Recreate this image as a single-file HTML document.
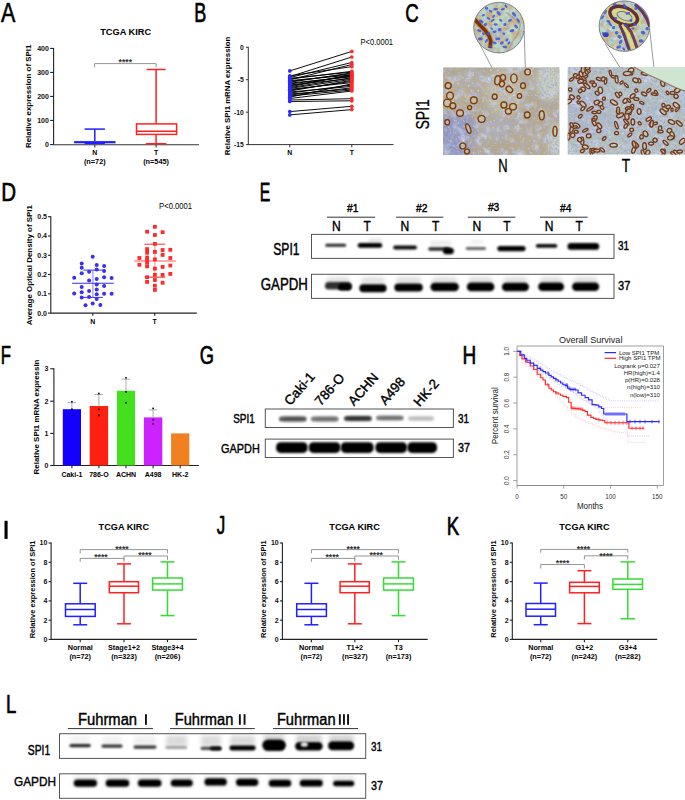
<!DOCTYPE html>
<html><head><meta charset="utf-8"><title>Figure</title>
<style>html,body{margin:0;padding:0;background:#fff;width:685px;height:800px;overflow:hidden}svg{display:block}</style>
</head><body>
<svg width="685" height="800" viewBox="0 0 685 800" font-family="Liberation Sans, sans-serif">
<defs><filter id="bl1" x="-20%" y="-150%" width="140%" height="400%"><feGaussianBlur stdDeviation="0.1"/></filter><filter id="bl2" x="-20%" y="-150%" width="140%" height="400%"><feGaussianBlur stdDeviation="0.2"/></filter><filter id="bl3" x="-20%" y="-150%" width="140%" height="400%"><feGaussianBlur stdDeviation="0.3"/></filter><filter id="bl4" x="-20%" y="-150%" width="140%" height="400%"><feGaussianBlur stdDeviation="0.4"/></filter><filter id="bl5" x="-20%" y="-150%" width="140%" height="400%"><feGaussianBlur stdDeviation="0.5"/></filter><filter id="bl6" x="-20%" y="-150%" width="140%" height="400%"><feGaussianBlur stdDeviation="0.6"/></filter><filter id="bl7" x="-20%" y="-150%" width="140%" height="400%"><feGaussianBlur stdDeviation="0.7"/></filter><filter id="bl8" x="-20%" y="-150%" width="140%" height="400%"><feGaussianBlur stdDeviation="0.8"/></filter><filter id="bl9" x="-20%" y="-150%" width="140%" height="400%"><feGaussianBlur stdDeviation="0.9"/></filter><filter id="bl10" x="-20%" y="-150%" width="140%" height="400%"><feGaussianBlur stdDeviation="1.0"/></filter><filter id="bl11" x="-20%" y="-150%" width="140%" height="400%"><feGaussianBlur stdDeviation="1.1"/></filter><filter id="bl12" x="-20%" y="-150%" width="140%" height="400%"><feGaussianBlur stdDeviation="1.2"/></filter><filter id="bl13" x="-20%" y="-150%" width="140%" height="400%"><feGaussianBlur stdDeviation="1.3"/></filter><filter id="bl14" x="-20%" y="-150%" width="140%" height="400%"><feGaussianBlur stdDeviation="1.4"/></filter><filter id="bl15" x="-20%" y="-150%" width="140%" height="400%"><feGaussianBlur stdDeviation="1.5"/></filter><filter id="bl16" x="-20%" y="-150%" width="140%" height="400%"><feGaussianBlur stdDeviation="1.6"/></filter><filter id="bl17" x="-20%" y="-150%" width="140%" height="400%"><feGaussianBlur stdDeviation="1.7"/></filter><filter id="bl18" x="-20%" y="-150%" width="140%" height="400%"><feGaussianBlur stdDeviation="1.8"/></filter><filter id="bl19" x="-20%" y="-150%" width="140%" height="400%"><feGaussianBlur stdDeviation="1.9"/></filter><filter id="bl20" x="-20%" y="-150%" width="140%" height="400%"><feGaussianBlur stdDeviation="2.0"/></filter><filter id="bl21" x="-20%" y="-150%" width="140%" height="400%"><feGaussianBlur stdDeviation="2.1"/></filter><filter id="bl22" x="-20%" y="-150%" width="140%" height="400%"><feGaussianBlur stdDeviation="2.2"/></filter><filter id="bl23" x="-20%" y="-150%" width="140%" height="400%"><feGaussianBlur stdDeviation="2.3"/></filter><filter id="bl24" x="-20%" y="-150%" width="140%" height="400%"><feGaussianBlur stdDeviation="2.4"/></filter><filter id="bl25" x="-20%" y="-150%" width="140%" height="400%"><feGaussianBlur stdDeviation="2.5"/></filter><filter id="bl26" x="-20%" y="-150%" width="140%" height="400%"><feGaussianBlur stdDeviation="2.6"/></filter><filter id="bl27" x="-20%" y="-150%" width="140%" height="400%"><feGaussianBlur stdDeviation="2.7"/></filter><filter id="bl28" x="-20%" y="-150%" width="140%" height="400%"><feGaussianBlur stdDeviation="2.8"/></filter><filter id="bl29" x="-20%" y="-150%" width="140%" height="400%"><feGaussianBlur stdDeviation="2.9"/></filter><filter id="bl30" x="-20%" y="-150%" width="140%" height="400%"><feGaussianBlur stdDeviation="3.0"/></filter></defs>
<rect width="685" height="800" fill="#fff"/>
<text font-size="1" transform="matrix(21.4925 0 0 26.8116 1.050 21.500)" fill="#000" stroke="#000" stroke-width="0.0248" stroke-linejoin="round">A</text>
<text font-size="1" transform="matrix(18.0451 0 0 26.8116 194.250 21.500)" fill="#000" stroke="#000" stroke-width="0.0268" stroke-linejoin="round">B</text>
<text font-size="1" transform="matrix(18.6111 0 0 26.4789 405.150 21.835)" fill="#000" stroke="#000" stroke-width="0.0266" stroke-linejoin="round">C</text>
<text font-size="1" transform="matrix(20.5556 0 0 26.3768 1.150 200.700)" fill="#000" stroke="#000" stroke-width="0.0256" stroke-linejoin="round">D</text>
<text font-size="1" transform="matrix(15.7895 0 0 26.3768 259.750 200.900)" fill="#000" stroke="#000" stroke-width="0.0285" stroke-linejoin="round">E</text>
<text font-size="1" transform="matrix(16.7213 0 0 25.9420 0.750 363.800)" fill="#000" stroke="#000" stroke-width="0.0281" stroke-linejoin="round">F</text>
<text font-size="1" transform="matrix(18.3333 0 0 26.0563 199.750 364.139)" fill="#000" stroke="#000" stroke-width="0.0270" stroke-linejoin="round">G</text>
<text font-size="1" transform="matrix(19.0278 0 0 26.0870 462.450 363.900)" fill="#000" stroke="#000" stroke-width="0.0266" stroke-linejoin="round">H</text>
<text font-size="1" transform="matrix(17.0000 0 0 26.0000 216.750 534.440)" fill="#000" stroke="#000" stroke-width="0.0279" stroke-linejoin="round">J</text>
<text font-size="1" transform="matrix(18.7970 0 0 26.3768 446.650 535.000)" fill="#000" stroke="#000" stroke-width="0.0266" stroke-linejoin="round">K</text>
<text font-size="1" transform="matrix(18.5586 0 0 26.3768 5.950 712.700)" fill="#000" stroke="#000" stroke-width="0.0267" stroke-linejoin="round">L</text>
<rect x="4.50" y="520.80" width="3.10" height="18.10" fill="#000"/>
<text font-size="1" transform="matrix(9.2391 0 0 9.5775 100.200 34.904)" font-weight="bold" fill="#000">TCGA KIRC</text>
<line x1="53.60" y1="47.90" x2="53.60" y2="145.10" stroke="#222" stroke-width="1.1"/>
<line x1="50.10" y1="48.40" x2="53.60" y2="48.40" stroke="#222" stroke-width="1.1"/>
<text x="48.90" y="50.85" font-size="7" text-anchor="end" font-weight="bold" fill="#111">400</text>
<line x1="50.10" y1="72.40" x2="53.60" y2="72.40" stroke="#222" stroke-width="1.1"/>
<text x="48.90" y="74.85" font-size="7" text-anchor="end" font-weight="bold" fill="#111">300</text>
<line x1="50.10" y1="96.40" x2="53.60" y2="96.40" stroke="#222" stroke-width="1.1"/>
<text x="48.90" y="98.85" font-size="7" text-anchor="end" font-weight="bold" fill="#111">200</text>
<line x1="50.10" y1="120.40" x2="53.60" y2="120.40" stroke="#222" stroke-width="1.1"/>
<text x="48.90" y="122.85" font-size="7" text-anchor="end" font-weight="bold" fill="#111">100</text>
<line x1="50.10" y1="144.60" x2="53.60" y2="144.60" stroke="#222" stroke-width="1.1"/>
<text x="48.90" y="147.05" font-size="7" text-anchor="end" font-weight="bold" fill="#111">0</text>
<text font-size="1" transform="matrix(0 -7.9250 6.4171 0 31.352 148.000)" font-weight="bold" fill="#000">Relative expression of SPI1</text>
<line x1="53.60" y1="144.80" x2="199.00" y2="144.80" stroke="#333" stroke-width="1.1"/>
<line x1="94.80" y1="144.80" x2="94.80" y2="147.60" stroke="#333" stroke-width="1.1"/>
<line x1="156.10" y1="144.80" x2="156.10" y2="147.60" stroke="#333" stroke-width="1.1"/>
<text x="94.80" y="154.60" font-size="6.9" text-anchor="middle" font-weight="bold">N</text>
<text x="94.80" y="163.60" font-size="6.9" text-anchor="middle" font-weight="bold" textLength="21.7" lengthAdjust="spacingAndGlyphs">(n=72)</text>
<text x="156.10" y="154.60" font-size="6.9" text-anchor="middle" font-weight="bold">T</text>
<text x="156.10" y="163.60" font-size="6.9" text-anchor="middle" font-weight="bold" textLength="25.8" lengthAdjust="spacingAndGlyphs">(n=545)</text>
<line x1="94.80" y1="129.10" x2="94.80" y2="141.00" stroke="#2020ff" stroke-width="1.5"/>
<line x1="84.60" y1="129.10" x2="104.90" y2="129.10" stroke="#2020ff" stroke-width="1.5"/>
<rect x="74.10" y="141.10" width="41.40" height="2.20" fill="#2020ff"/>
<line x1="84.60" y1="143.40" x2="104.90" y2="143.40" stroke="#2020ff" stroke-width="1.5"/>
<line x1="156.10" y1="69.50" x2="156.10" y2="123.90" stroke="#ff2020" stroke-width="1.5"/>
<line x1="156.10" y1="134.40" x2="156.10" y2="143.70" stroke="#ff2020" stroke-width="1.5"/>
<line x1="146.60" y1="69.50" x2="165.60" y2="69.50" stroke="#ff2020" stroke-width="1.5"/>
<line x1="145.85" y1="143.70" x2="166.35" y2="143.70" stroke="#ff2020" stroke-width="1.5"/>
<rect x="136.50" y="123.90" width="40.10" height="10.50" fill="none" stroke="#ff2020" stroke-width="1.5"/>
<line x1="136.50" y1="131.20" x2="176.60" y2="131.20" stroke="#ff2020" stroke-width="1.5"/>
<polyline points="94.60,67.40 94.60,63.60 156.10,63.60 156.10,67.40" stroke="#8a8a8a" stroke-width="0.9" fill="none"/>
<text x="125.30" y="65.30" font-size="9.2" text-anchor="middle" font-weight="bold" textLength="13.5" lengthAdjust="spacingAndGlyphs" fill="#333">****</text>
<line x1="248.30" y1="46.80" x2="248.30" y2="145.10" stroke="#333" stroke-width="1"/>
<line x1="245.90" y1="47.30" x2="248.30" y2="47.30" stroke="#333" stroke-width="1"/>
<text x="243.90" y="49.75" font-size="6.8" text-anchor="end" font-weight="bold" fill="#111">0</text>
<line x1="245.90" y1="79.70" x2="248.30" y2="79.70" stroke="#333" stroke-width="1"/>
<text x="243.90" y="82.15" font-size="6.8" text-anchor="end" font-weight="bold" fill="#111">-5</text>
<line x1="245.90" y1="112.20" x2="248.30" y2="112.20" stroke="#333" stroke-width="1"/>
<text x="243.90" y="114.65" font-size="6.8" text-anchor="end" font-weight="bold" fill="#111">-10</text>
<line x1="245.90" y1="144.60" x2="248.30" y2="144.60" stroke="#333" stroke-width="1"/>
<text x="243.90" y="147.05" font-size="6.8" text-anchor="end" font-weight="bold" fill="#111">-15</text>
<line x1="248.30" y1="144.60" x2="393.50" y2="144.60" stroke="#333" stroke-width="1"/>
<line x1="289.80" y1="144.60" x2="289.80" y2="147.30" stroke="#333" stroke-width="1"/>
<line x1="351.80" y1="144.60" x2="351.80" y2="147.30" stroke="#333" stroke-width="1"/>
<text x="289.80" y="155.20" font-size="6.8" text-anchor="middle" font-weight="bold">N</text>
<text x="351.80" y="155.20" font-size="6.8" text-anchor="middle" font-weight="bold">T</text>
<text font-size="1" transform="matrix(0 -7.8427 6.6310 0 229.907 155.200)" font-weight="bold" fill="#000">Relative SPI1 mRNA expression</text>
<text font-size="1" transform="matrix(7.5406 0 0 8.3099 360.600 45.117)" fill="#000">P&lt;0.0001</text>
<line x1="289.80" y1="70.90" x2="351.80" y2="51.40" stroke="#000" stroke-width="0.95"/>
<line x1="289.80" y1="75.80" x2="351.80" y2="66.60" stroke="#000" stroke-width="0.95"/>
<line x1="289.80" y1="76.60" x2="351.80" y2="57.00" stroke="#000" stroke-width="0.95"/>
<line x1="289.80" y1="77.50" x2="351.80" y2="62.50" stroke="#000" stroke-width="0.95"/>
<line x1="289.80" y1="78.30" x2="351.80" y2="72.10" stroke="#000" stroke-width="0.95"/>
<line x1="289.80" y1="79.00" x2="351.80" y2="71.30" stroke="#000" stroke-width="0.95"/>
<line x1="289.80" y1="79.80" x2="351.80" y2="64.50" stroke="#000" stroke-width="0.95"/>
<line x1="289.80" y1="80.60" x2="351.80" y2="75.00" stroke="#000" stroke-width="0.95"/>
<line x1="289.80" y1="81.40" x2="351.80" y2="73.70" stroke="#000" stroke-width="0.95"/>
<line x1="289.80" y1="82.20" x2="351.80" y2="72.90" stroke="#000" stroke-width="0.95"/>
<line x1="289.80" y1="83.10" x2="351.80" y2="76.90" stroke="#000" stroke-width="0.95"/>
<line x1="289.80" y1="84.00" x2="351.80" y2="76.10" stroke="#000" stroke-width="0.95"/>
<line x1="289.80" y1="85.00" x2="351.80" y2="78.50" stroke="#000" stroke-width="0.95"/>
<line x1="289.80" y1="85.90" x2="351.80" y2="75.30" stroke="#000" stroke-width="0.95"/>
<line x1="289.80" y1="86.80" x2="351.80" y2="74.50" stroke="#000" stroke-width="0.95"/>
<line x1="289.80" y1="87.60" x2="351.80" y2="77.70" stroke="#000" stroke-width="0.95"/>
<line x1="289.80" y1="88.40" x2="351.80" y2="79.30" stroke="#000" stroke-width="0.95"/>
<line x1="289.80" y1="89.30" x2="351.80" y2="82.60" stroke="#000" stroke-width="0.95"/>
<line x1="289.80" y1="90.20" x2="351.80" y2="81.40" stroke="#000" stroke-width="0.95"/>
<line x1="289.80" y1="91.00" x2="351.80" y2="80.30" stroke="#000" stroke-width="0.95"/>
<line x1="289.80" y1="92.00" x2="351.80" y2="86.40" stroke="#000" stroke-width="0.95"/>
<line x1="289.80" y1="93.00" x2="351.80" y2="85.00" stroke="#000" stroke-width="0.95"/>
<line x1="289.80" y1="94.00" x2="351.80" y2="89.00" stroke="#000" stroke-width="0.95"/>
<line x1="289.80" y1="95.00" x2="351.80" y2="87.80" stroke="#000" stroke-width="0.95"/>
<line x1="289.80" y1="96.00" x2="351.80" y2="90.00" stroke="#000" stroke-width="0.95"/>
<line x1="289.80" y1="97.20" x2="351.80" y2="83.80" stroke="#000" stroke-width="0.95"/>
<line x1="289.80" y1="98.50" x2="351.80" y2="91.00" stroke="#000" stroke-width="0.95"/>
<line x1="289.80" y1="100.00" x2="351.80" y2="98.70" stroke="#000" stroke-width="0.95"/>
<line x1="289.80" y1="101.50" x2="351.80" y2="100.80" stroke="#000" stroke-width="0.95"/>
<line x1="289.80" y1="111.60" x2="351.80" y2="106.30" stroke="#000" stroke-width="0.95"/>
<line x1="289.80" y1="114.90" x2="351.80" y2="109.60" stroke="#000" stroke-width="0.95"/>
<circle cx="289.8" cy="70.90" r="1.85" fill="#2a2aff"/>
<circle cx="351.8" cy="51.40" r="1.85" fill="#ff2a2a"/>
<circle cx="289.8" cy="75.80" r="1.85" fill="#2a2aff"/>
<circle cx="351.8" cy="66.60" r="1.85" fill="#ff2a2a"/>
<circle cx="289.8" cy="76.60" r="1.85" fill="#2a2aff"/>
<circle cx="351.8" cy="57.00" r="1.85" fill="#ff2a2a"/>
<circle cx="289.8" cy="77.50" r="1.85" fill="#2a2aff"/>
<circle cx="351.8" cy="62.50" r="1.85" fill="#ff2a2a"/>
<circle cx="289.8" cy="78.30" r="1.85" fill="#2a2aff"/>
<circle cx="351.8" cy="72.10" r="1.85" fill="#ff2a2a"/>
<circle cx="289.8" cy="79.00" r="1.85" fill="#2a2aff"/>
<circle cx="351.8" cy="71.30" r="1.85" fill="#ff2a2a"/>
<circle cx="289.8" cy="79.80" r="1.85" fill="#2a2aff"/>
<circle cx="351.8" cy="64.50" r="1.85" fill="#ff2a2a"/>
<circle cx="289.8" cy="80.60" r="1.85" fill="#2a2aff"/>
<circle cx="351.8" cy="75.00" r="1.85" fill="#ff2a2a"/>
<circle cx="289.8" cy="81.40" r="1.85" fill="#2a2aff"/>
<circle cx="351.8" cy="73.70" r="1.85" fill="#ff2a2a"/>
<circle cx="289.8" cy="82.20" r="1.85" fill="#2a2aff"/>
<circle cx="351.8" cy="72.90" r="1.85" fill="#ff2a2a"/>
<circle cx="289.8" cy="83.10" r="1.85" fill="#2a2aff"/>
<circle cx="351.8" cy="76.90" r="1.85" fill="#ff2a2a"/>
<circle cx="289.8" cy="84.00" r="1.85" fill="#2a2aff"/>
<circle cx="351.8" cy="76.10" r="1.85" fill="#ff2a2a"/>
<circle cx="289.8" cy="85.00" r="1.85" fill="#2a2aff"/>
<circle cx="351.8" cy="78.50" r="1.85" fill="#ff2a2a"/>
<circle cx="289.8" cy="85.90" r="1.85" fill="#2a2aff"/>
<circle cx="351.8" cy="75.30" r="1.85" fill="#ff2a2a"/>
<circle cx="289.8" cy="86.80" r="1.85" fill="#2a2aff"/>
<circle cx="351.8" cy="74.50" r="1.85" fill="#ff2a2a"/>
<circle cx="289.8" cy="87.60" r="1.85" fill="#2a2aff"/>
<circle cx="351.8" cy="77.70" r="1.85" fill="#ff2a2a"/>
<circle cx="289.8" cy="88.40" r="1.85" fill="#2a2aff"/>
<circle cx="351.8" cy="79.30" r="1.85" fill="#ff2a2a"/>
<circle cx="289.8" cy="89.30" r="1.85" fill="#2a2aff"/>
<circle cx="351.8" cy="82.60" r="1.85" fill="#ff2a2a"/>
<circle cx="289.8" cy="90.20" r="1.85" fill="#2a2aff"/>
<circle cx="351.8" cy="81.40" r="1.85" fill="#ff2a2a"/>
<circle cx="289.8" cy="91.00" r="1.85" fill="#2a2aff"/>
<circle cx="351.8" cy="80.30" r="1.85" fill="#ff2a2a"/>
<circle cx="289.8" cy="92.00" r="1.85" fill="#2a2aff"/>
<circle cx="351.8" cy="86.40" r="1.85" fill="#ff2a2a"/>
<circle cx="289.8" cy="93.00" r="1.85" fill="#2a2aff"/>
<circle cx="351.8" cy="85.00" r="1.85" fill="#ff2a2a"/>
<circle cx="289.8" cy="94.00" r="1.85" fill="#2a2aff"/>
<circle cx="351.8" cy="89.00" r="1.85" fill="#ff2a2a"/>
<circle cx="289.8" cy="95.00" r="1.85" fill="#2a2aff"/>
<circle cx="351.8" cy="87.80" r="1.85" fill="#ff2a2a"/>
<circle cx="289.8" cy="96.00" r="1.85" fill="#2a2aff"/>
<circle cx="351.8" cy="90.00" r="1.85" fill="#ff2a2a"/>
<circle cx="289.8" cy="97.20" r="1.85" fill="#2a2aff"/>
<circle cx="351.8" cy="83.80" r="1.85" fill="#ff2a2a"/>
<circle cx="289.8" cy="98.50" r="1.85" fill="#2a2aff"/>
<circle cx="351.8" cy="91.00" r="1.85" fill="#ff2a2a"/>
<circle cx="289.8" cy="100.00" r="1.85" fill="#2a2aff"/>
<circle cx="351.8" cy="98.70" r="1.85" fill="#ff2a2a"/>
<circle cx="289.8" cy="101.50" r="1.85" fill="#2a2aff"/>
<circle cx="351.8" cy="100.80" r="1.85" fill="#ff2a2a"/>
<circle cx="289.8" cy="111.60" r="1.85" fill="#2a2aff"/>
<circle cx="351.8" cy="106.30" r="1.85" fill="#ff2a2a"/>
<circle cx="289.8" cy="114.90" r="1.85" fill="#2a2aff"/>
<circle cx="351.8" cy="109.60" r="1.85" fill="#ff2a2a"/>
<text font-size="1" transform="matrix(0 -14.0323 19.2254 0 429.483 129.575)" fill="#000" stroke="#000" stroke-width="0.0150" stroke-linejoin="round">SPI1</text>
<text font-size="1" transform="matrix(12.9861 0 0 17.7536 498.225 171.775)" fill="#000" stroke="#000" stroke-width="0.0163" stroke-linejoin="round">N</text>
<text font-size="1" transform="matrix(13.8525 0 0 17.8986 621.825 171.875)" fill="#000" stroke="#000" stroke-width="0.0157" stroke-linejoin="round">T</text>
<rect x="443.10" y="67.50" width="116.20" height="87.50" fill="#b3a888"/>
<clipPath id="clip1"><rect x="443.1" y="67.5" width="116.2" height="87.5"/></clipPath>
<g clip-path="url(#clip1)">
<g filter="url(#bl30)">
<ellipse cx="455" cy="135" rx="22" ry="26" fill="#8c94c4" opacity="0.9"/>
<ellipse cx="495" cy="128" rx="16" ry="10" fill="#aeb2c2" opacity="0.6"/>
<ellipse cx="550" cy="82" rx="14" ry="18" fill="#c6d2c0" opacity="0.9"/>
<ellipse cx="556" cy="140" rx="8" ry="18" fill="#c4d4c8" opacity="0.9"/>
<ellipse cx="505" cy="92" rx="20" ry="24" fill="#c8c6a8" opacity="0.7"/>
<ellipse cx="470" cy="80" rx="14" ry="10" fill="#b6b0a8" opacity="0.6"/>
<ellipse cx="530" cy="140" rx="18" ry="12" fill="#bcae8c" opacity="0.6"/>
<ellipse cx="480" cy="142" rx="14" ry="10" fill="#b8aa8a" opacity="0.6"/>
<ellipse cx="520" cy="122" rx="12" ry="10" fill="#b4ac9c" opacity="0.5"/>
<ellipse cx="456" cy="100" rx="14" ry="18" fill="#c0b08c" opacity="0.6"/>
</g>
<filter id="nz1_0" x="0" y="0" width="100%" height="100%" filterUnits="userSpaceOnUse"><feTurbulence type="fractalNoise" baseFrequency="0.12" numOctaves="2" seed="21"/><feColorMatrix type="matrix" values="0 0 0 0 0.596 0 0 0 0 0.643 0 0 0 0 0.784 3.0 0 0 0 -1.5"/></filter>
<rect x="443.1" y="67.5" width="116.2" height="87.5" fill="#000" filter="url(#nz1_0)"/>
<filter id="nz1_1" x="0" y="0" width="100%" height="100%" filterUnits="userSpaceOnUse"><feTurbulence type="fractalNoise" baseFrequency="0.45" numOctaves="2" seed="3"/><feColorMatrix type="matrix" values="0 0 0 0 0.353 0 0 0 0 0.416 0 0 0 0 0.816 3.4 0 0 0 -1.62"/></filter>
<rect x="443.1" y="67.5" width="116.2" height="87.5" fill="#000" filter="url(#nz1_1)"/>
<filter id="nz1_2" x="0" y="0" width="100%" height="100%" filterUnits="userSpaceOnUse"><feTurbulence type="fractalNoise" baseFrequency="0.42" numOctaves="2" seed="7"/><feColorMatrix type="matrix" values="0 0 0 0 0.604 0 0 0 0 0.416 0 0 0 0 0.188 2.6 0 0 0 -1.45"/></filter>
<rect x="443.1" y="67.5" width="116.2" height="87.5" fill="#000" filter="url(#nz1_2)"/>
<filter id="nz1_3" x="0" y="0" width="100%" height="100%" filterUnits="userSpaceOnUse"><feTurbulence type="fractalNoise" baseFrequency="0.4" numOctaves="2" seed="11"/><feColorMatrix type="matrix" values="0 0 0 0 0.878 0 0 0 0 0.863 0 0 0 0 0.769 2.0 0 0 0 -1.25"/></filter>
<rect x="443.1" y="67.5" width="116.2" height="87.5" fill="#000" filter="url(#nz1_3)"/>
<ellipse cx="497.5" cy="80.2" rx="2.7" ry="4.6" transform="rotate(10 497.5 80.2)" fill="#c8c6aa" stroke="#b07838" stroke-width="1.5" opacity="0.7"/>
<ellipse cx="497.5" cy="80.2" rx="2.7" ry="4.6" transform="rotate(10 497.5 80.2)" fill="none" stroke="#7a3a12" stroke-width="1.2"/>
<ellipse cx="503.0" cy="77.5" rx="2.6" ry="3.0" transform="rotate(0 503.0 77.5)" fill="#c8c6aa" stroke="#b07838" stroke-width="1.5" opacity="0.7"/>
<ellipse cx="503.0" cy="77.5" rx="2.6" ry="3.0" transform="rotate(0 503.0 77.5)" fill="none" stroke="#7a3a12" stroke-width="1.2"/>
<ellipse cx="502.0" cy="84.0" rx="2.4" ry="2.8" transform="rotate(30 502.0 84.0)" fill="#c8c6aa" stroke="#b07838" stroke-width="1.5" opacity="0.7"/>
<ellipse cx="502.0" cy="84.0" rx="2.4" ry="2.8" transform="rotate(30 502.0 84.0)" fill="none" stroke="#7a3a12" stroke-width="1.2"/>
<ellipse cx="513.9" cy="78.4" rx="3.2" ry="4.4" transform="rotate(0 513.9 78.4)" fill="#c8c6aa" stroke="#b07838" stroke-width="1.5" opacity="0.7"/>
<ellipse cx="513.9" cy="78.4" rx="3.2" ry="4.4" transform="rotate(0 513.9 78.4)" fill="none" stroke="#7a3a12" stroke-width="1.2"/>
<ellipse cx="509.3" cy="89.4" rx="3.6" ry="2.6" transform="rotate(40 509.3 89.4)" fill="#c8c6aa" stroke="#b07838" stroke-width="1.5" opacity="0.7"/>
<ellipse cx="509.3" cy="89.4" rx="3.6" ry="2.6" transform="rotate(40 509.3 89.4)" fill="none" stroke="#7a3a12" stroke-width="1.2"/>
<ellipse cx="494.7" cy="96.7" rx="2.4" ry="2.6" transform="rotate(0 494.7 96.7)" fill="#c8c6aa" stroke="#b07838" stroke-width="1.5" opacity="0.7"/>
<ellipse cx="494.7" cy="96.7" rx="2.4" ry="2.6" transform="rotate(0 494.7 96.7)" fill="none" stroke="#7a3a12" stroke-width="1.2"/>
<ellipse cx="523.0" cy="85.7" rx="2.4" ry="2.8" transform="rotate(0 523.0 85.7)" fill="#c8c6aa" stroke="#b07838" stroke-width="1.5" opacity="0.7"/>
<ellipse cx="523.0" cy="85.7" rx="2.4" ry="2.8" transform="rotate(0 523.0 85.7)" fill="none" stroke="#7a3a12" stroke-width="1.2"/>
<ellipse cx="503.9" cy="104.9" rx="3.0" ry="3.0" transform="rotate(0 503.9 104.9)" fill="#c8c6aa" stroke="#b07838" stroke-width="1.5" opacity="0.7"/>
<ellipse cx="503.9" cy="104.9" rx="3.0" ry="3.0" transform="rotate(0 503.9 104.9)" fill="none" stroke="#7a3a12" stroke-width="1.2"/>
<ellipse cx="513.0" cy="106.7" rx="3.4" ry="3.2" transform="rotate(0 513.0 106.7)" fill="#c8c6aa" stroke="#b07838" stroke-width="1.5" opacity="0.7"/>
<ellipse cx="513.0" cy="106.7" rx="3.4" ry="3.2" transform="rotate(0 513.0 106.7)" fill="none" stroke="#7a3a12" stroke-width="1.2"/>
<ellipse cx="508.4" cy="111.3" rx="3.0" ry="2.8" transform="rotate(0 508.4 111.3)" fill="#c8c6aa" stroke="#b07838" stroke-width="1.5" opacity="0.7"/>
<ellipse cx="508.4" cy="111.3" rx="3.0" ry="2.8" transform="rotate(0 508.4 111.3)" fill="none" stroke="#7a3a12" stroke-width="1.2"/>
<ellipse cx="527.2" cy="114.9" rx="2.8" ry="3.0" transform="rotate(0 527.2 114.9)" fill="#c8c6aa" stroke="#b07838" stroke-width="1.5" opacity="0.7"/>
<ellipse cx="527.2" cy="114.9" rx="2.8" ry="3.0" transform="rotate(0 527.2 114.9)" fill="none" stroke="#7a3a12" stroke-width="1.2"/>
<ellipse cx="541.8" cy="115.3" rx="2.5" ry="4.5" transform="rotate(0 541.8 115.3)" fill="#c8c6aa" stroke="#b07838" stroke-width="1.5" opacity="0.7"/>
<ellipse cx="541.8" cy="115.3" rx="2.5" ry="4.5" transform="rotate(0 541.8 115.3)" fill="none" stroke="#7a3a12" stroke-width="1.2"/>
<ellipse cx="473.8" cy="100.3" rx="3.4" ry="3.4" transform="rotate(0 473.8 100.3)" fill="#c8c6aa" stroke="#b07838" stroke-width="1.5" opacity="0.7"/>
<ellipse cx="473.8" cy="100.3" rx="3.4" ry="3.4" transform="rotate(0 473.8 100.3)" fill="none" stroke="#7a3a12" stroke-width="1.2"/>
<ellipse cx="469.6" cy="107.6" rx="2.0" ry="2.0" transform="rotate(0 469.6 107.6)" fill="#c8c6aa" stroke="#b07838" stroke-width="1.5" opacity="0.7"/>
<ellipse cx="469.6" cy="107.6" rx="2.0" ry="2.0" transform="rotate(0 469.6 107.6)" fill="none" stroke="#7a3a12" stroke-width="1.2"/>
<ellipse cx="481.6" cy="118.9" rx="3.5" ry="3.4" transform="rotate(0 481.6 118.9)" fill="#c8c6aa" stroke="#b07838" stroke-width="1.5" opacity="0.7"/>
<ellipse cx="481.6" cy="118.9" rx="3.5" ry="3.4" transform="rotate(0 481.6 118.9)" fill="none" stroke="#7a3a12" stroke-width="1.2"/>
<ellipse cx="450.0" cy="95.8" rx="3.4" ry="3.6" transform="rotate(0 450.0 95.8)" fill="#c8c6aa" stroke="#b07838" stroke-width="1.5" opacity="0.7"/>
<ellipse cx="450.0" cy="95.8" rx="3.4" ry="3.6" transform="rotate(0 450.0 95.8)" fill="none" stroke="#7a3a12" stroke-width="1.2"/>
<ellipse cx="447.3" cy="103.0" rx="3.8" ry="3.8" transform="rotate(0 447.3 103.0)" fill="#c8c6aa" stroke="#b07838" stroke-width="1.5" opacity="0.7"/>
<ellipse cx="447.3" cy="103.0" rx="3.8" ry="3.8" transform="rotate(0 447.3 103.0)" fill="none" stroke="#7a3a12" stroke-width="1.2"/>
<ellipse cx="452.8" cy="105.8" rx="3.0" ry="3.0" transform="rotate(0 452.8 105.8)" fill="#c8c6aa" stroke="#b07838" stroke-width="1.5" opacity="0.7"/>
<ellipse cx="452.8" cy="105.8" rx="3.0" ry="3.0" transform="rotate(0 452.8 105.8)" fill="none" stroke="#7a3a12" stroke-width="1.2"/>
<ellipse cx="460.0" cy="113.1" rx="3.5" ry="3.3" transform="rotate(0 460.0 113.1)" fill="#c8c6aa" stroke="#b07838" stroke-width="1.5" opacity="0.7"/>
<ellipse cx="460.0" cy="113.1" rx="3.5" ry="3.3" transform="rotate(0 460.0 113.1)" fill="none" stroke="#7a3a12" stroke-width="1.2"/>
<ellipse cx="448.2" cy="85.7" rx="3.0" ry="3.0" transform="rotate(0 448.2 85.7)" fill="#c8c6aa" stroke="#b07838" stroke-width="1.5" opacity="0.7"/>
<ellipse cx="448.2" cy="85.7" rx="3.0" ry="3.0" transform="rotate(0 448.2 85.7)" fill="none" stroke="#7a3a12" stroke-width="1.2"/>
<ellipse cx="447.3" cy="122.2" rx="2.4" ry="2.6" transform="rotate(0 447.3 122.2)" fill="#c8c6aa" stroke="#b07838" stroke-width="1.5" opacity="0.7"/>
<ellipse cx="447.3" cy="122.2" rx="2.4" ry="2.6" transform="rotate(0 447.3 122.2)" fill="none" stroke="#7a3a12" stroke-width="1.2"/>
<ellipse cx="468.3" cy="128.6" rx="2.0" ry="5.0" transform="rotate(-20 468.3 128.6)" fill="#c8c6aa" stroke="#b07838" stroke-width="1.5" opacity="0.7"/>
<ellipse cx="468.3" cy="128.6" rx="2.0" ry="5.0" transform="rotate(-20 468.3 128.6)" fill="none" stroke="#7a3a12" stroke-width="1.2"/>
<ellipse cx="462.8" cy="146.0" rx="3.0" ry="3.0" transform="rotate(0 462.8 146.0)" fill="#c8c6aa" stroke="#b07838" stroke-width="1.5" opacity="0.7"/>
<ellipse cx="462.8" cy="146.0" rx="3.0" ry="3.0" transform="rotate(0 462.8 146.0)" fill="none" stroke="#7a3a12" stroke-width="1.2"/>
<ellipse cx="467.0" cy="151.4" rx="2.5" ry="2.4" transform="rotate(0 467.0 151.4)" fill="#c8c6aa" stroke="#b07838" stroke-width="1.5" opacity="0.7"/>
<ellipse cx="467.0" cy="151.4" rx="2.5" ry="2.4" transform="rotate(0 467.0 151.4)" fill="none" stroke="#7a3a12" stroke-width="1.2"/>
<ellipse cx="527.6" cy="72.0" rx="2.8" ry="3.0" transform="rotate(0 527.6 72.0)" fill="#c8c6aa" stroke="#b07838" stroke-width="1.5" opacity="0.7"/>
<ellipse cx="527.6" cy="72.0" rx="2.8" ry="3.0" transform="rotate(0 527.6 72.0)" fill="none" stroke="#7a3a12" stroke-width="1.2"/>
<ellipse cx="555.0" cy="131.3" rx="2.0" ry="5.0" transform="rotate(0 555.0 131.3)" fill="#c8c6aa" stroke="#b07838" stroke-width="1.5" opacity="0.7"/>
<ellipse cx="555.0" cy="131.3" rx="2.0" ry="5.0" transform="rotate(0 555.0 131.3)" fill="none" stroke="#7a3a12" stroke-width="1.2"/>
<ellipse cx="519.5" cy="96.0" rx="2.2" ry="2.4" transform="rotate(0 519.5 96.0)" fill="#c8c6aa" stroke="#b07838" stroke-width="1.5" opacity="0.7"/>
<ellipse cx="519.5" cy="96.0" rx="2.2" ry="2.4" transform="rotate(0 519.5 96.0)" fill="none" stroke="#7a3a12" stroke-width="1.2"/>
</g>
<rect x="567.80" y="67.00" width="117.20" height="87.40" fill="#b2c4bc"/>
<clipPath id="clip2"><rect x="567.8" y="67.0" width="117.2" height="87.4"/></clipPath>
<g clip-path="url(#clip2)">
<g filter="url(#bl30)">
<ellipse cx="590" cy="110" rx="25" ry="30" fill="#a8b6c8" opacity="0.5"/>
<ellipse cx="640" cy="120" rx="25" ry="25" fill="#acbcc4" opacity="0.45"/>
<ellipse cx="600" cy="145" rx="20" ry="10" fill="#b8c8b8" opacity="0.6"/>
<ellipse cx="575" cy="80" rx="12" ry="12" fill="#b8c8bc" opacity="0.6"/>
<ellipse cx="620" cy="100" rx="15" ry="15" fill="#bcccc0" opacity="0.5"/>
</g>
<filter id="nz2_0" x="0" y="0" width="100%" height="100%" filterUnits="userSpaceOnUse"><feTurbulence type="fractalNoise" baseFrequency="0.12" numOctaves="2" seed="23"/><feColorMatrix type="matrix" values="0 0 0 0 0.596 0 0 0 0 0.659 0 0 0 0 0.816 3.0 0 0 0 -1.5"/></filter>
<rect x="567.8" y="67.0" width="117.2" height="87.4" fill="#000" filter="url(#nz2_0)"/>
<filter id="nz2_1" x="0" y="0" width="100%" height="100%" filterUnits="userSpaceOnUse"><feTurbulence type="fractalNoise" baseFrequency="0.45" numOctaves="2" seed="5"/><feColorMatrix type="matrix" values="0 0 0 0 0.353 0 0 0 0 0.416 0 0 0 0 0.816 3.4 0 0 0 -1.58"/></filter>
<rect x="567.8" y="67.0" width="117.2" height="87.4" fill="#000" filter="url(#nz2_1)"/>
<filter id="nz2_2" x="0" y="0" width="100%" height="100%" filterUnits="userSpaceOnUse"><feTurbulence type="fractalNoise" baseFrequency="0.42" numOctaves="2" seed="9"/><feColorMatrix type="matrix" values="0 0 0 0 0.541 0 0 0 0 0.314 0 0 0 0 0.251 2.4 0 0 0 -1.35"/></filter>
<rect x="567.8" y="67.0" width="117.2" height="87.4" fill="#000" filter="url(#nz2_2)"/>
<filter id="nz2_3" x="0" y="0" width="100%" height="100%" filterUnits="userSpaceOnUse"><feTurbulence type="fractalNoise" baseFrequency="0.4" numOctaves="2" seed="13"/><feColorMatrix type="matrix" values="0 0 0 0 0.847 0 0 0 0 0.894 0 0 0 0 0.816 2.0 0 0 0 -1.25"/></filter>
<rect x="567.8" y="67.0" width="117.2" height="87.4" fill="#000" filter="url(#nz2_3)"/>
<ellipse cx="605.6" cy="81.0" rx="3.2" ry="1.2" transform="rotate(96 605.6 81.0)" fill="#c0d2c0" stroke="#b89a60" stroke-width="1.5" opacity="0.7"/>
<ellipse cx="605.6" cy="81.0" rx="3.2" ry="1.2" transform="rotate(96 605.6 81.0)" fill="none" stroke="#6e3422" stroke-width="1.2"/>
<ellipse cx="610.4" cy="73.0" rx="2.8" ry="1.1" transform="rotate(78 610.4 73.0)" fill="#c0d2c0" stroke="#b89a60" stroke-width="1.5" opacity="0.7"/>
<ellipse cx="610.4" cy="73.0" rx="2.8" ry="1.1" transform="rotate(78 610.4 73.0)" fill="none" stroke="#6e3422" stroke-width="1.2"/>
<ellipse cx="576.1" cy="75.8" rx="2.6" ry="2.0" transform="rotate(22 576.1 75.8)" fill="#c0d2c0" stroke="#b89a60" stroke-width="1.5" opacity="0.7"/>
<ellipse cx="576.1" cy="75.8" rx="2.6" ry="2.0" transform="rotate(22 576.1 75.8)" fill="none" stroke="#6e3422" stroke-width="1.2"/>
<ellipse cx="593.9" cy="122.0" rx="3.9" ry="1.7" transform="rotate(71 593.9 122.0)" fill="#c0d2c0" stroke="#b89a60" stroke-width="1.5" opacity="0.7"/>
<ellipse cx="593.9" cy="122.0" rx="3.9" ry="1.7" transform="rotate(71 593.9 122.0)" fill="none" stroke="#6e3422" stroke-width="1.2"/>
<ellipse cx="667.6" cy="92.9" rx="1.9" ry="1.2" transform="rotate(56 667.6 92.9)" fill="#c0d2c0" stroke="#b89a60" stroke-width="1.5" opacity="0.7"/>
<ellipse cx="667.6" cy="92.9" rx="1.9" ry="1.2" transform="rotate(56 667.6 92.9)" fill="none" stroke="#6e3422" stroke-width="1.2"/>
<ellipse cx="662.7" cy="83.5" rx="3.0" ry="1.8" transform="rotate(67 662.7 83.5)" fill="#c0d2c0" stroke="#b89a60" stroke-width="1.5" opacity="0.7"/>
<ellipse cx="662.7" cy="83.5" rx="3.0" ry="1.8" transform="rotate(67 662.7 83.5)" fill="none" stroke="#6e3422" stroke-width="1.2"/>
<ellipse cx="631.5" cy="73.4" rx="1.7" ry="1.3" transform="rotate(122 631.5 73.4)" fill="#c0d2c0" stroke="#b89a60" stroke-width="1.5" opacity="0.7"/>
<ellipse cx="631.5" cy="73.4" rx="1.7" ry="1.3" transform="rotate(122 631.5 73.4)" fill="none" stroke="#6e3422" stroke-width="1.2"/>
<ellipse cx="617.6" cy="95.0" rx="3.0" ry="1.6" transform="rotate(54 617.6 95.0)" fill="#c0d2c0" stroke="#b89a60" stroke-width="1.5" opacity="0.7"/>
<ellipse cx="617.6" cy="95.0" rx="3.0" ry="1.6" transform="rotate(54 617.6 95.0)" fill="none" stroke="#6e3422" stroke-width="1.2"/>
<ellipse cx="660.1" cy="128.1" rx="2.2" ry="1.7" transform="rotate(95 660.1 128.1)" fill="#c0d2c0" stroke="#b89a60" stroke-width="1.5" opacity="0.7"/>
<ellipse cx="660.1" cy="128.1" rx="2.2" ry="1.7" transform="rotate(95 660.1 128.1)" fill="none" stroke="#6e3422" stroke-width="1.2"/>
<ellipse cx="669.5" cy="130.7" rx="2.3" ry="2.2" transform="rotate(21 669.5 130.7)" fill="#c0d2c0" stroke="#b89a60" stroke-width="1.5" opacity="0.7"/>
<ellipse cx="669.5" cy="130.7" rx="2.3" ry="2.2" transform="rotate(21 669.5 130.7)" fill="none" stroke="#6e3422" stroke-width="1.2"/>
<ellipse cx="616.5" cy="133.1" rx="2.0" ry="1.6" transform="rotate(7 616.5 133.1)" fill="#c0d2c0" stroke="#b89a60" stroke-width="1.5" opacity="0.7"/>
<ellipse cx="616.5" cy="133.1" rx="2.0" ry="1.6" transform="rotate(7 616.5 133.1)" fill="none" stroke="#6e3422" stroke-width="1.2"/>
<ellipse cx="645.5" cy="133.8" rx="3.0" ry="2.1" transform="rotate(56 645.5 133.8)" fill="#c0d2c0" stroke="#b89a60" stroke-width="1.5" opacity="0.7"/>
<ellipse cx="645.5" cy="133.8" rx="3.0" ry="2.1" transform="rotate(56 645.5 133.8)" fill="none" stroke="#6e3422" stroke-width="1.2"/>
<ellipse cx="648.7" cy="119.1" rx="3.0" ry="1.6" transform="rotate(151 648.7 119.1)" fill="#c0d2c0" stroke="#b89a60" stroke-width="1.5" opacity="0.7"/>
<ellipse cx="648.7" cy="119.1" rx="3.0" ry="1.6" transform="rotate(151 648.7 119.1)" fill="none" stroke="#6e3422" stroke-width="1.2"/>
<ellipse cx="677.6" cy="108.8" rx="3.2" ry="1.2" transform="rotate(126 677.6 108.8)" fill="#c0d2c0" stroke="#b89a60" stroke-width="1.5" opacity="0.7"/>
<ellipse cx="677.6" cy="108.8" rx="3.2" ry="1.2" transform="rotate(126 677.6 108.8)" fill="none" stroke="#6e3422" stroke-width="1.2"/>
<ellipse cx="643.1" cy="153.4" rx="3.6" ry="1.4" transform="rotate(69 643.1 153.4)" fill="#c0d2c0" stroke="#b89a60" stroke-width="1.5" opacity="0.7"/>
<ellipse cx="643.1" cy="153.4" rx="3.6" ry="1.4" transform="rotate(69 643.1 153.4)" fill="none" stroke="#6e3422" stroke-width="1.2"/>
<ellipse cx="621.6" cy="82.5" rx="1.9" ry="1.2" transform="rotate(138 621.6 82.5)" fill="#c0d2c0" stroke="#b89a60" stroke-width="1.5" opacity="0.7"/>
<ellipse cx="621.6" cy="82.5" rx="1.9" ry="1.2" transform="rotate(138 621.6 82.5)" fill="none" stroke="#6e3422" stroke-width="1.2"/>
<ellipse cx="583.0" cy="89.3" rx="2.5" ry="2.1" transform="rotate(15 583.0 89.3)" fill="#c0d2c0" stroke="#b89a60" stroke-width="1.5" opacity="0.7"/>
<ellipse cx="583.0" cy="89.3" rx="2.5" ry="2.1" transform="rotate(15 583.0 89.3)" fill="none" stroke="#6e3422" stroke-width="1.2"/>
<ellipse cx="620.1" cy="115.3" rx="3.7" ry="2.0" transform="rotate(156 620.1 115.3)" fill="#c0d2c0" stroke="#b89a60" stroke-width="1.5" opacity="0.7"/>
<ellipse cx="620.1" cy="115.3" rx="3.7" ry="2.0" transform="rotate(156 620.1 115.3)" fill="none" stroke="#6e3422" stroke-width="1.2"/>
<ellipse cx="600.3" cy="103.7" rx="2.5" ry="2.1" transform="rotate(172 600.3 103.7)" fill="#c0d2c0" stroke="#b89a60" stroke-width="1.5" opacity="0.7"/>
<ellipse cx="600.3" cy="103.7" rx="2.5" ry="2.1" transform="rotate(172 600.3 103.7)" fill="none" stroke="#6e3422" stroke-width="1.2"/>
<ellipse cx="585.5" cy="83.2" rx="2.2" ry="1.4" transform="rotate(87 585.5 83.2)" fill="#c0d2c0" stroke="#b89a60" stroke-width="1.5" opacity="0.7"/>
<ellipse cx="585.5" cy="83.2" rx="2.2" ry="1.4" transform="rotate(87 585.5 83.2)" fill="none" stroke="#6e3422" stroke-width="1.2"/>
<ellipse cx="636.3" cy="90.6" rx="1.6" ry="1.6" transform="rotate(66 636.3 90.6)" fill="#c0d2c0" stroke="#b89a60" stroke-width="1.5" opacity="0.7"/>
<ellipse cx="636.3" cy="90.6" rx="1.6" ry="1.6" transform="rotate(66 636.3 90.6)" fill="none" stroke="#6e3422" stroke-width="1.2"/>
<ellipse cx="633.7" cy="150.0" rx="3.3" ry="1.7" transform="rotate(111 633.7 150.0)" fill="#c0d2c0" stroke="#b89a60" stroke-width="1.5" opacity="0.7"/>
<ellipse cx="633.7" cy="150.0" rx="3.3" ry="1.7" transform="rotate(111 633.7 150.0)" fill="none" stroke="#6e3422" stroke-width="1.2"/>
<ellipse cx="672.3" cy="135.1" rx="3.7" ry="2.0" transform="rotate(71 672.3 135.1)" fill="#c0d2c0" stroke="#b89a60" stroke-width="1.5" opacity="0.7"/>
<ellipse cx="672.3" cy="135.1" rx="3.7" ry="2.0" transform="rotate(71 672.3 135.1)" fill="none" stroke="#6e3422" stroke-width="1.2"/>
<ellipse cx="614.3" cy="76.9" rx="3.1" ry="1.2" transform="rotate(12 614.3 76.9)" fill="#c0d2c0" stroke="#b89a60" stroke-width="1.5" opacity="0.7"/>
<ellipse cx="614.3" cy="76.9" rx="3.1" ry="1.2" transform="rotate(12 614.3 76.9)" fill="none" stroke="#6e3422" stroke-width="1.2"/>
<ellipse cx="592.2" cy="82.0" rx="2.4" ry="1.2" transform="rotate(0 592.2 82.0)" fill="#c0d2c0" stroke="#b89a60" stroke-width="1.5" opacity="0.7"/>
<ellipse cx="592.2" cy="82.0" rx="2.4" ry="1.2" transform="rotate(0 592.2 82.0)" fill="none" stroke="#6e3422" stroke-width="1.2"/>
<ellipse cx="585.5" cy="76.7" rx="2.5" ry="1.1" transform="rotate(157 585.5 76.7)" fill="#c0d2c0" stroke="#b89a60" stroke-width="1.5" opacity="0.7"/>
<ellipse cx="585.5" cy="76.7" rx="2.5" ry="1.1" transform="rotate(157 585.5 76.7)" fill="none" stroke="#6e3422" stroke-width="1.2"/>
<ellipse cx="639.2" cy="80.8" rx="2.2" ry="1.5" transform="rotate(66 639.2 80.8)" fill="#c0d2c0" stroke="#b89a60" stroke-width="1.5" opacity="0.7"/>
<ellipse cx="639.2" cy="80.8" rx="2.2" ry="1.5" transform="rotate(66 639.2 80.8)" fill="none" stroke="#6e3422" stroke-width="1.2"/>
<ellipse cx="582.2" cy="141.0" rx="4.0" ry="1.6" transform="rotate(87 582.2 141.0)" fill="#c0d2c0" stroke="#b89a60" stroke-width="1.5" opacity="0.7"/>
<ellipse cx="582.2" cy="141.0" rx="4.0" ry="1.6" transform="rotate(87 582.2 141.0)" fill="none" stroke="#6e3422" stroke-width="1.2"/>
<ellipse cx="578.0" cy="76.8" rx="2.4" ry="1.4" transform="rotate(149 578.0 76.8)" fill="#c0d2c0" stroke="#b89a60" stroke-width="1.5" opacity="0.7"/>
<ellipse cx="578.0" cy="76.8" rx="2.4" ry="1.4" transform="rotate(149 578.0 76.8)" fill="none" stroke="#6e3422" stroke-width="1.2"/>
<ellipse cx="586.7" cy="70.0" rx="3.9" ry="1.7" transform="rotate(26 586.7 70.0)" fill="#c0d2c0" stroke="#b89a60" stroke-width="1.5" opacity="0.7"/>
<ellipse cx="586.7" cy="70.0" rx="3.9" ry="1.7" transform="rotate(26 586.7 70.0)" fill="none" stroke="#6e3422" stroke-width="1.2"/>
<ellipse cx="631.0" cy="70.3" rx="2.9" ry="2.2" transform="rotate(155 631.0 70.3)" fill="#c0d2c0" stroke="#b89a60" stroke-width="1.5" opacity="0.7"/>
<ellipse cx="631.0" cy="70.3" rx="2.9" ry="2.2" transform="rotate(155 631.0 70.3)" fill="none" stroke="#6e3422" stroke-width="1.2"/>
<ellipse cx="648.8" cy="90.5" rx="2.5" ry="1.3" transform="rotate(139 648.8 90.5)" fill="#c0d2c0" stroke="#b89a60" stroke-width="1.5" opacity="0.7"/>
<ellipse cx="648.8" cy="90.5" rx="2.5" ry="1.3" transform="rotate(139 648.8 90.5)" fill="none" stroke="#6e3422" stroke-width="1.2"/>
<ellipse cx="629.8" cy="135.0" rx="2.4" ry="1.3" transform="rotate(146 629.8 135.0)" fill="#c0d2c0" stroke="#b89a60" stroke-width="1.5" opacity="0.7"/>
<ellipse cx="629.8" cy="135.0" rx="2.4" ry="1.3" transform="rotate(146 629.8 135.0)" fill="none" stroke="#6e3422" stroke-width="1.2"/>
<ellipse cx="682.3" cy="141.3" rx="3.5" ry="2.0" transform="rotate(133 682.3 141.3)" fill="#c0d2c0" stroke="#b89a60" stroke-width="1.5" opacity="0.7"/>
<ellipse cx="682.3" cy="141.3" rx="3.5" ry="2.0" transform="rotate(133 682.3 141.3)" fill="none" stroke="#6e3422" stroke-width="1.2"/>
<ellipse cx="594.3" cy="112.5" rx="2.5" ry="1.1" transform="rotate(5 594.3 112.5)" fill="#c0d2c0" stroke="#b89a60" stroke-width="1.5" opacity="0.7"/>
<ellipse cx="594.3" cy="112.5" rx="2.5" ry="1.1" transform="rotate(5 594.3 112.5)" fill="none" stroke="#6e3422" stroke-width="1.2"/>
<ellipse cx="600.4" cy="90.3" rx="3.3" ry="2.2" transform="rotate(81 600.4 90.3)" fill="#c0d2c0" stroke="#b89a60" stroke-width="1.5" opacity="0.7"/>
<ellipse cx="600.4" cy="90.3" rx="3.3" ry="2.2" transform="rotate(81 600.4 90.3)" fill="none" stroke="#6e3422" stroke-width="1.2"/>
<ellipse cx="676.7" cy="153.0" rx="3.9" ry="1.5" transform="rotate(40 676.7 153.0)" fill="#c0d2c0" stroke="#b89a60" stroke-width="1.5" opacity="0.7"/>
<ellipse cx="676.7" cy="153.0" rx="3.9" ry="1.5" transform="rotate(40 676.7 153.0)" fill="none" stroke="#6e3422" stroke-width="1.2"/>
<ellipse cx="594.3" cy="84.9" rx="2.1" ry="1.8" transform="rotate(162 594.3 84.9)" fill="#c0d2c0" stroke="#b89a60" stroke-width="1.5" opacity="0.7"/>
<ellipse cx="594.3" cy="84.9" rx="2.1" ry="1.8" transform="rotate(162 594.3 84.9)" fill="none" stroke="#6e3422" stroke-width="1.2"/>
<ellipse cx="665.5" cy="109.2" rx="3.2" ry="2.0" transform="rotate(15 665.5 109.2)" fill="#c0d2c0" stroke="#b89a60" stroke-width="1.5" opacity="0.7"/>
<ellipse cx="665.5" cy="109.2" rx="3.2" ry="2.0" transform="rotate(15 665.5 109.2)" fill="none" stroke="#6e3422" stroke-width="1.2"/>
<ellipse cx="644.6" cy="146.2" rx="3.5" ry="1.9" transform="rotate(86 644.6 146.2)" fill="#c0d2c0" stroke="#b89a60" stroke-width="1.5" opacity="0.7"/>
<ellipse cx="644.6" cy="146.2" rx="3.5" ry="1.9" transform="rotate(86 644.6 146.2)" fill="none" stroke="#6e3422" stroke-width="1.2"/>
<ellipse cx="588.7" cy="135.9" rx="2.4" ry="2.0" transform="rotate(175 588.7 135.9)" fill="#c0d2c0" stroke="#b89a60" stroke-width="1.5" opacity="0.7"/>
<ellipse cx="588.7" cy="135.9" rx="2.4" ry="2.0" transform="rotate(175 588.7 135.9)" fill="none" stroke="#6e3422" stroke-width="1.2"/>
<ellipse cx="613.9" cy="102.5" rx="3.9" ry="1.9" transform="rotate(31 613.9 102.5)" fill="#c0d2c0" stroke="#b89a60" stroke-width="1.5" opacity="0.7"/>
<ellipse cx="613.9" cy="102.5" rx="3.9" ry="1.9" transform="rotate(31 613.9 102.5)" fill="none" stroke="#6e3422" stroke-width="1.2"/>
<ellipse cx="582.7" cy="81.0" rx="3.8" ry="2.0" transform="rotate(26 582.7 81.0)" fill="#c0d2c0" stroke="#b89a60" stroke-width="1.5" opacity="0.7"/>
<ellipse cx="582.7" cy="81.0" rx="3.8" ry="2.0" transform="rotate(26 582.7 81.0)" fill="none" stroke="#6e3422" stroke-width="1.2"/>
<ellipse cx="663.9" cy="152.3" rx="3.2" ry="1.5" transform="rotate(99 663.9 152.3)" fill="#c0d2c0" stroke="#b89a60" stroke-width="1.5" opacity="0.7"/>
<ellipse cx="663.9" cy="152.3" rx="3.2" ry="1.5" transform="rotate(99 663.9 152.3)" fill="none" stroke="#6e3422" stroke-width="1.2"/>
<ellipse cx="583.2" cy="69.2" rx="3.9" ry="1.8" transform="rotate(95 583.2 69.2)" fill="#c0d2c0" stroke="#b89a60" stroke-width="1.5" opacity="0.7"/>
<ellipse cx="583.2" cy="69.2" rx="3.9" ry="1.8" transform="rotate(95 583.2 69.2)" fill="none" stroke="#6e3422" stroke-width="1.2"/>
<ellipse cx="676.3" cy="105.3" rx="3.7" ry="2.0" transform="rotate(38 676.3 105.3)" fill="#c0d2c0" stroke="#b89a60" stroke-width="1.5" opacity="0.7"/>
<ellipse cx="676.3" cy="105.3" rx="3.7" ry="2.0" transform="rotate(38 676.3 105.3)" fill="none" stroke="#6e3422" stroke-width="1.2"/>
<ellipse cx="597.2" cy="93.2" rx="2.2" ry="1.7" transform="rotate(47 597.2 93.2)" fill="#c0d2c0" stroke="#b89a60" stroke-width="1.5" opacity="0.7"/>
<ellipse cx="597.2" cy="93.2" rx="2.2" ry="1.7" transform="rotate(47 597.2 93.2)" fill="none" stroke="#6e3422" stroke-width="1.2"/>
<ellipse cx="616.6" cy="79.3" rx="3.8" ry="1.5" transform="rotate(82 616.6 79.3)" fill="#c0d2c0" stroke="#b89a60" stroke-width="1.5" opacity="0.7"/>
<ellipse cx="616.6" cy="79.3" rx="3.8" ry="1.5" transform="rotate(82 616.6 79.3)" fill="none" stroke="#6e3422" stroke-width="1.2"/>
<ellipse cx="635.7" cy="145.8" rx="2.6" ry="2.1" transform="rotate(90 635.7 145.8)" fill="#c0d2c0" stroke="#b89a60" stroke-width="1.5" opacity="0.7"/>
<ellipse cx="635.7" cy="145.8" rx="2.6" ry="2.1" transform="rotate(90 635.7 145.8)" fill="none" stroke="#6e3422" stroke-width="1.2"/>
<ellipse cx="629.7" cy="113.0" rx="1.6" ry="1.6" transform="rotate(33 629.7 113.0)" fill="#c0d2c0" stroke="#b89a60" stroke-width="1.5" opacity="0.7"/>
<ellipse cx="629.7" cy="113.0" rx="1.6" ry="1.6" transform="rotate(33 629.7 113.0)" fill="none" stroke="#6e3422" stroke-width="1.2"/>
<ellipse cx="568.5" cy="136.7" rx="2.0" ry="1.6" transform="rotate(131 568.5 136.7)" fill="#c0d2c0" stroke="#b89a60" stroke-width="1.5" opacity="0.7"/>
<ellipse cx="568.5" cy="136.7" rx="2.0" ry="1.6" transform="rotate(131 568.5 136.7)" fill="none" stroke="#6e3422" stroke-width="1.2"/>
<ellipse cx="632.6" cy="96.0" rx="2.8" ry="1.7" transform="rotate(141 632.6 96.0)" fill="#c0d2c0" stroke="#b89a60" stroke-width="1.5" opacity="0.7"/>
<ellipse cx="632.6" cy="96.0" rx="2.8" ry="1.7" transform="rotate(141 632.6 96.0)" fill="none" stroke="#6e3422" stroke-width="1.2"/>
<ellipse cx="580.3" cy="116.2" rx="2.2" ry="1.4" transform="rotate(139 580.3 116.2)" fill="#c0d2c0" stroke="#b89a60" stroke-width="1.5" opacity="0.7"/>
<ellipse cx="580.3" cy="116.2" rx="2.2" ry="1.4" transform="rotate(139 580.3 116.2)" fill="none" stroke="#6e3422" stroke-width="1.2"/>
<ellipse cx="626.9" cy="116.3" rx="3.4" ry="2.1" transform="rotate(80 626.9 116.3)" fill="#c0d2c0" stroke="#b89a60" stroke-width="1.5" opacity="0.7"/>
<ellipse cx="626.9" cy="116.3" rx="3.4" ry="2.1" transform="rotate(80 626.9 116.3)" fill="none" stroke="#6e3422" stroke-width="1.2"/>
<ellipse cx="639.1" cy="111.5" rx="2.8" ry="1.9" transform="rotate(81 639.1 111.5)" fill="#c0d2c0" stroke="#b89a60" stroke-width="1.5" opacity="0.7"/>
<ellipse cx="639.1" cy="111.5" rx="2.8" ry="1.9" transform="rotate(81 639.1 111.5)" fill="none" stroke="#6e3422" stroke-width="1.2"/>
<ellipse cx="629.9" cy="109.1" rx="3.9" ry="1.9" transform="rotate(158 629.9 109.1)" fill="#c0d2c0" stroke="#b89a60" stroke-width="1.5" opacity="0.7"/>
<ellipse cx="629.9" cy="109.1" rx="3.9" ry="1.9" transform="rotate(158 629.9 109.1)" fill="none" stroke="#6e3422" stroke-width="1.2"/>
<ellipse cx="677.3" cy="90.3" rx="2.9" ry="2.1" transform="rotate(151 677.3 90.3)" fill="#c0d2c0" stroke="#b89a60" stroke-width="1.5" opacity="0.7"/>
<ellipse cx="677.3" cy="90.3" rx="2.9" ry="2.1" transform="rotate(151 677.3 90.3)" fill="none" stroke="#6e3422" stroke-width="1.2"/>
<ellipse cx="583.9" cy="78.5" rx="2.7" ry="1.2" transform="rotate(43 583.9 78.5)" fill="#c0d2c0" stroke="#b89a60" stroke-width="1.5" opacity="0.7"/>
<ellipse cx="583.9" cy="78.5" rx="2.7" ry="1.2" transform="rotate(43 583.9 78.5)" fill="none" stroke="#6e3422" stroke-width="1.2"/>
<ellipse cx="576.5" cy="125.6" rx="3.5" ry="2.1" transform="rotate(28 576.5 125.6)" fill="#c0d2c0" stroke="#b89a60" stroke-width="1.5" opacity="0.7"/>
<ellipse cx="576.5" cy="125.6" rx="3.5" ry="2.1" transform="rotate(28 576.5 125.6)" fill="none" stroke="#6e3422" stroke-width="1.2"/>
<ellipse cx="651.1" cy="124.8" rx="1.9" ry="2.1" transform="rotate(174 651.1 124.8)" fill="#c0d2c0" stroke="#b89a60" stroke-width="1.5" opacity="0.7"/>
<ellipse cx="651.1" cy="124.8" rx="1.9" ry="2.1" transform="rotate(174 651.1 124.8)" fill="none" stroke="#6e3422" stroke-width="1.2"/>
<ellipse cx="593.5" cy="149.9" rx="2.6" ry="1.6" transform="rotate(178 593.5 149.9)" fill="#c0d2c0" stroke="#b89a60" stroke-width="1.5" opacity="0.7"/>
<ellipse cx="593.5" cy="149.9" rx="2.6" ry="1.6" transform="rotate(178 593.5 149.9)" fill="none" stroke="#6e3422" stroke-width="1.2"/>
<ellipse cx="618.1" cy="112.3" rx="2.4" ry="1.3" transform="rotate(57 618.1 112.3)" fill="#c0d2c0" stroke="#b89a60" stroke-width="1.5" opacity="0.7"/>
<ellipse cx="618.1" cy="112.3" rx="2.4" ry="1.3" transform="rotate(57 618.1 112.3)" fill="none" stroke="#6e3422" stroke-width="1.2"/>
<ellipse cx="632.3" cy="105.9" rx="1.6" ry="1.5" transform="rotate(112 632.3 105.9)" fill="#c0d2c0" stroke="#b89a60" stroke-width="1.5" opacity="0.7"/>
<ellipse cx="632.3" cy="105.9" rx="1.6" ry="1.5" transform="rotate(112 632.3 105.9)" fill="none" stroke="#6e3422" stroke-width="1.2"/>
<ellipse cx="627.4" cy="73.5" rx="4.0" ry="2.0" transform="rotate(175 627.4 73.5)" fill="#c0d2c0" stroke="#b89a60" stroke-width="1.5" opacity="0.7"/>
<ellipse cx="627.4" cy="73.5" rx="4.0" ry="2.0" transform="rotate(175 627.4 73.5)" fill="none" stroke="#6e3422" stroke-width="1.2"/>
<ellipse cx="580.2" cy="90.8" rx="1.7" ry="2.0" transform="rotate(49 580.2 90.8)" fill="#c0d2c0" stroke="#b89a60" stroke-width="1.5" opacity="0.7"/>
<ellipse cx="580.2" cy="90.8" rx="1.7" ry="2.0" transform="rotate(49 580.2 90.8)" fill="none" stroke="#6e3422" stroke-width="1.2"/>
<ellipse cx="583.0" cy="104.3" rx="3.8" ry="2.0" transform="rotate(47 583.0 104.3)" fill="#c0d2c0" stroke="#b89a60" stroke-width="1.5" opacity="0.7"/>
<ellipse cx="583.0" cy="104.3" rx="3.8" ry="2.0" transform="rotate(47 583.0 104.3)" fill="none" stroke="#6e3422" stroke-width="1.2"/>
<ellipse cx="585.3" cy="147.0" rx="3.0" ry="1.9" transform="rotate(16 585.3 147.0)" fill="#c0d2c0" stroke="#b89a60" stroke-width="1.5" opacity="0.7"/>
<ellipse cx="585.3" cy="147.0" rx="3.0" ry="1.9" transform="rotate(16 585.3 147.0)" fill="none" stroke="#6e3422" stroke-width="1.2"/>
<ellipse cx="574.7" cy="127.2" rx="2.6" ry="1.2" transform="rotate(169 574.7 127.2)" fill="#c0d2c0" stroke="#b89a60" stroke-width="1.5" opacity="0.7"/>
<ellipse cx="574.7" cy="127.2" rx="2.6" ry="1.2" transform="rotate(169 574.7 127.2)" fill="none" stroke="#6e3422" stroke-width="1.2"/>
<ellipse cx="641.6" cy="136.9" rx="1.8" ry="2.0" transform="rotate(12 641.6 136.9)" fill="#c0d2c0" stroke="#b89a60" stroke-width="1.5" opacity="0.7"/>
<ellipse cx="641.6" cy="136.9" rx="1.8" ry="2.0" transform="rotate(12 641.6 136.9)" fill="none" stroke="#6e3422" stroke-width="1.2"/>
<ellipse cx="668.1" cy="107.0" rx="2.4" ry="1.7" transform="rotate(167 668.1 107.0)" fill="#c0d2c0" stroke="#b89a60" stroke-width="1.5" opacity="0.7"/>
<ellipse cx="668.1" cy="107.0" rx="2.4" ry="1.7" transform="rotate(167 668.1 107.0)" fill="none" stroke="#6e3422" stroke-width="1.2"/>
<ellipse cx="599.1" cy="79.1" rx="2.9" ry="1.4" transform="rotate(20 599.1 79.1)" fill="#c0d2c0" stroke="#b89a60" stroke-width="1.5" opacity="0.7"/>
<ellipse cx="599.1" cy="79.1" rx="2.9" ry="1.4" transform="rotate(20 599.1 79.1)" fill="none" stroke="#6e3422" stroke-width="1.2"/>
<ellipse cx="586.7" cy="72.3" rx="2.1" ry="1.4" transform="rotate(55 586.7 72.3)" fill="#c0d2c0" stroke="#b89a60" stroke-width="1.5" opacity="0.7"/>
<ellipse cx="586.7" cy="72.3" rx="2.1" ry="1.4" transform="rotate(55 586.7 72.3)" fill="none" stroke="#6e3422" stroke-width="1.2"/>
<ellipse cx="656.1" cy="92.9" rx="2.8" ry="1.3" transform="rotate(62 656.1 92.9)" fill="#c0d2c0" stroke="#b89a60" stroke-width="1.5" opacity="0.7"/>
<ellipse cx="656.1" cy="92.9" rx="2.8" ry="1.3" transform="rotate(62 656.1 92.9)" fill="none" stroke="#6e3422" stroke-width="1.2"/>
<ellipse cx="570.1" cy="89.5" rx="1.6" ry="1.9" transform="rotate(99 570.1 89.5)" fill="#c0d2c0" stroke="#b89a60" stroke-width="1.5" opacity="0.7"/>
<ellipse cx="570.1" cy="89.5" rx="1.6" ry="1.9" transform="rotate(99 570.1 89.5)" fill="none" stroke="#6e3422" stroke-width="1.2"/>
<ellipse cx="590.0" cy="108.8" rx="3.8" ry="1.2" transform="rotate(147 590.0 108.8)" fill="#c0d2c0" stroke="#b89a60" stroke-width="1.5" opacity="0.7"/>
<ellipse cx="590.0" cy="108.8" rx="3.8" ry="1.2" transform="rotate(147 590.0 108.8)" fill="none" stroke="#6e3422" stroke-width="1.2"/>
<ellipse cx="618.1" cy="110.6" rx="3.6" ry="1.5" transform="rotate(91 618.1 110.6)" fill="#c0d2c0" stroke="#b89a60" stroke-width="1.5" opacity="0.7"/>
<ellipse cx="618.1" cy="110.6" rx="3.6" ry="1.5" transform="rotate(91 618.1 110.6)" fill="none" stroke="#6e3422" stroke-width="1.2"/>
<ellipse cx="647.8" cy="152.5" rx="2.4" ry="2.0" transform="rotate(127 647.8 152.5)" fill="#c0d2c0" stroke="#b89a60" stroke-width="1.5" opacity="0.7"/>
<ellipse cx="647.8" cy="152.5" rx="2.4" ry="2.0" transform="rotate(127 647.8 152.5)" fill="none" stroke="#6e3422" stroke-width="1.2"/>
<ellipse cx="641.8" cy="102.8" rx="2.4" ry="1.2" transform="rotate(23 641.8 102.8)" fill="#c0d2c0" stroke="#b89a60" stroke-width="1.5" opacity="0.7"/>
<ellipse cx="641.8" cy="102.8" rx="2.4" ry="1.2" transform="rotate(23 641.8 102.8)" fill="none" stroke="#6e3422" stroke-width="1.2"/>
<ellipse cx="576.2" cy="131.7" rx="2.2" ry="1.3" transform="rotate(15 576.2 131.7)" fill="#c0d2c0" stroke="#b89a60" stroke-width="1.5" opacity="0.7"/>
<ellipse cx="576.2" cy="131.7" rx="2.2" ry="1.3" transform="rotate(15 576.2 131.7)" fill="none" stroke="#6e3422" stroke-width="1.2"/>
<ellipse cx="665.6" cy="142.9" rx="3.2" ry="1.4" transform="rotate(44 665.6 142.9)" fill="#c0d2c0" stroke="#b89a60" stroke-width="1.5" opacity="0.7"/>
<ellipse cx="665.6" cy="142.9" rx="3.2" ry="1.4" transform="rotate(44 665.6 142.9)" fill="none" stroke="#6e3422" stroke-width="1.2"/>
<ellipse cx="602.0" cy="107.5" rx="2.0" ry="1.6" transform="rotate(47 602.0 107.5)" fill="#c0d2c0" stroke="#b89a60" stroke-width="1.5" opacity="0.7"/>
<ellipse cx="602.0" cy="107.5" rx="2.0" ry="1.6" transform="rotate(47 602.0 107.5)" fill="none" stroke="#6e3422" stroke-width="1.2"/>
<ellipse cx="679.6" cy="151.6" rx="2.9" ry="1.4" transform="rotate(174 679.6 151.6)" fill="#c0d2c0" stroke="#b89a60" stroke-width="1.5" opacity="0.7"/>
<ellipse cx="679.6" cy="151.6" rx="2.9" ry="1.4" transform="rotate(174 679.6 151.6)" fill="none" stroke="#6e3422" stroke-width="1.2"/>
<ellipse cx="603.9" cy="98.7" rx="1.6" ry="1.5" transform="rotate(85 603.9 98.7)" fill="#c0d2c0" stroke="#b89a60" stroke-width="1.5" opacity="0.7"/>
<ellipse cx="603.9" cy="98.7" rx="1.6" ry="1.5" transform="rotate(85 603.9 98.7)" fill="none" stroke="#6e3422" stroke-width="1.2"/>
<ellipse cx="626.3" cy="85.3" rx="2.8" ry="1.1" transform="rotate(48 626.3 85.3)" fill="#c0d2c0" stroke="#b89a60" stroke-width="1.5" opacity="0.7"/>
<ellipse cx="626.3" cy="85.3" rx="2.8" ry="1.1" transform="rotate(48 626.3 85.3)" fill="none" stroke="#6e3422" stroke-width="1.2"/>
<ellipse cx="578.4" cy="102.4" rx="1.7" ry="1.1" transform="rotate(55 578.4 102.4)" fill="#c0d2c0" stroke="#b89a60" stroke-width="1.5" opacity="0.7"/>
<ellipse cx="578.4" cy="102.4" rx="1.7" ry="1.1" transform="rotate(55 578.4 102.4)" fill="none" stroke="#6e3422" stroke-width="1.2"/>
<ellipse cx="595.0" cy="118.4" rx="2.9" ry="1.9" transform="rotate(118 595.0 118.4)" fill="#c0d2c0" stroke="#b89a60" stroke-width="1.5" opacity="0.7"/>
<ellipse cx="595.0" cy="118.4" rx="2.9" ry="1.9" transform="rotate(118 595.0 118.4)" fill="none" stroke="#6e3422" stroke-width="1.2"/>
<ellipse cx="651.1" cy="143.6" rx="2.5" ry="1.5" transform="rotate(177 651.1 143.6)" fill="#c0d2c0" stroke="#b89a60" stroke-width="1.5" opacity="0.7"/>
<ellipse cx="651.1" cy="143.6" rx="2.5" ry="1.5" transform="rotate(177 651.1 143.6)" fill="none" stroke="#6e3422" stroke-width="1.2"/>
<ellipse cx="585.3" cy="130.3" rx="3.1" ry="1.1" transform="rotate(150 585.3 130.3)" fill="#c0d2c0" stroke="#b89a60" stroke-width="1.5" opacity="0.7"/>
<ellipse cx="585.3" cy="130.3" rx="3.1" ry="1.1" transform="rotate(150 585.3 130.3)" fill="none" stroke="#6e3422" stroke-width="1.2"/>
<ellipse cx="671.5" cy="122.0" rx="3.4" ry="2.0" transform="rotate(25 671.5 122.0)" fill="#c0d2c0" stroke="#b89a60" stroke-width="1.5" opacity="0.7"/>
<ellipse cx="671.5" cy="122.0" rx="3.4" ry="2.0" transform="rotate(25 671.5 122.0)" fill="none" stroke="#6e3422" stroke-width="1.2"/>
<ellipse cx="628.8" cy="111.4" rx="3.6" ry="2.0" transform="rotate(149 628.8 111.4)" fill="#c0d2c0" stroke="#b89a60" stroke-width="1.5" opacity="0.7"/>
<ellipse cx="628.8" cy="111.4" rx="3.6" ry="2.0" transform="rotate(149 628.8 111.4)" fill="none" stroke="#6e3422" stroke-width="1.2"/>
<ellipse cx="635.8" cy="144.8" rx="3.2" ry="1.9" transform="rotate(41 635.8 144.8)" fill="#c0d2c0" stroke="#b89a60" stroke-width="1.5" opacity="0.7"/>
<ellipse cx="635.8" cy="144.8" rx="3.2" ry="1.9" transform="rotate(41 635.8 144.8)" fill="none" stroke="#6e3422" stroke-width="1.2"/>
<ellipse cx="571.6" cy="79.4" rx="2.5" ry="1.2" transform="rotate(150 571.6 79.4)" fill="#c0d2c0" stroke="#b89a60" stroke-width="1.5" opacity="0.7"/>
<ellipse cx="571.6" cy="79.4" rx="2.5" ry="1.2" transform="rotate(150 571.6 79.4)" fill="none" stroke="#6e3422" stroke-width="1.2"/>
<ellipse cx="632.8" cy="122.0" rx="3.1" ry="1.8" transform="rotate(88 632.8 122.0)" fill="#c0d2c0" stroke="#b89a60" stroke-width="1.5" opacity="0.7"/>
<ellipse cx="632.8" cy="122.0" rx="3.1" ry="1.8" transform="rotate(88 632.8 122.0)" fill="none" stroke="#6e3422" stroke-width="1.2"/>
<ellipse cx="568.4" cy="136.6" rx="3.4" ry="1.7" transform="rotate(96 568.4 136.6)" fill="#c0d2c0" stroke="#b89a60" stroke-width="1.5" opacity="0.7"/>
<ellipse cx="568.4" cy="136.6" rx="3.4" ry="1.7" transform="rotate(96 568.4 136.6)" fill="none" stroke="#6e3422" stroke-width="1.2"/>
<ellipse cx="644.5" cy="73.7" rx="3.4" ry="1.4" transform="rotate(13 644.5 73.7)" fill="#c0d2c0" stroke="#b89a60" stroke-width="1.5" opacity="0.7"/>
<ellipse cx="644.5" cy="73.7" rx="3.4" ry="1.4" transform="rotate(13 644.5 73.7)" fill="none" stroke="#6e3422" stroke-width="1.2"/>
<ellipse cx="598.8" cy="130.7" rx="2.1" ry="1.9" transform="rotate(176 598.8 130.7)" fill="#c0d2c0" stroke="#b89a60" stroke-width="1.5" opacity="0.7"/>
<ellipse cx="598.8" cy="130.7" rx="2.1" ry="1.9" transform="rotate(176 598.8 130.7)" fill="none" stroke="#6e3422" stroke-width="1.2"/>
<ellipse cx="625.3" cy="100.9" rx="2.7" ry="1.9" transform="rotate(138 625.3 100.9)" fill="#c0d2c0" stroke="#b89a60" stroke-width="1.5" opacity="0.7"/>
<ellipse cx="625.3" cy="100.9" rx="2.7" ry="1.9" transform="rotate(138 625.3 100.9)" fill="none" stroke="#6e3422" stroke-width="1.2"/>
<ellipse cx="639.6" cy="123.3" rx="1.8" ry="1.3" transform="rotate(46 639.6 123.3)" fill="#c0d2c0" stroke="#b89a60" stroke-width="1.5" opacity="0.7"/>
<ellipse cx="639.6" cy="123.3" rx="1.8" ry="1.3" transform="rotate(46 639.6 123.3)" fill="none" stroke="#6e3422" stroke-width="1.2"/>
<ellipse cx="654.2" cy="94.2" rx="3.0" ry="1.1" transform="rotate(11 654.2 94.2)" fill="#c0d2c0" stroke="#b89a60" stroke-width="1.5" opacity="0.7"/>
<ellipse cx="654.2" cy="94.2" rx="3.0" ry="1.1" transform="rotate(11 654.2 94.2)" fill="none" stroke="#6e3422" stroke-width="1.2"/>
<ellipse cx="599.2" cy="125.8" rx="3.3" ry="1.8" transform="rotate(52 599.2 125.8)" fill="#c0d2c0" stroke="#b89a60" stroke-width="1.5" opacity="0.7"/>
<ellipse cx="599.2" cy="125.8" rx="3.3" ry="1.8" transform="rotate(52 599.2 125.8)" fill="none" stroke="#6e3422" stroke-width="1.2"/>
<ellipse cx="627.9" cy="108.0" rx="2.7" ry="1.2" transform="rotate(161 627.9 108.0)" fill="#c0d2c0" stroke="#b89a60" stroke-width="1.5" opacity="0.7"/>
<ellipse cx="627.9" cy="108.0" rx="2.7" ry="1.2" transform="rotate(161 627.9 108.0)" fill="none" stroke="#6e3422" stroke-width="1.2"/>
<ellipse cx="591.1" cy="152.1" rx="3.8" ry="1.1" transform="rotate(83 591.1 152.1)" fill="#c0d2c0" stroke="#b89a60" stroke-width="1.5" opacity="0.7"/>
<ellipse cx="591.1" cy="152.1" rx="3.8" ry="1.1" transform="rotate(83 591.1 152.1)" fill="none" stroke="#6e3422" stroke-width="1.2"/>
<ellipse cx="663.1" cy="151.3" rx="2.7" ry="1.4" transform="rotate(38 663.1 151.3)" fill="#c0d2c0" stroke="#b89a60" stroke-width="1.5" opacity="0.7"/>
<ellipse cx="663.1" cy="151.3" rx="2.7" ry="1.4" transform="rotate(38 663.1 151.3)" fill="none" stroke="#6e3422" stroke-width="1.2"/>
<ellipse cx="635.5" cy="80.2" rx="2.9" ry="2.1" transform="rotate(24 635.5 80.2)" fill="#c0d2c0" stroke="#b89a60" stroke-width="1.5" opacity="0.7"/>
<ellipse cx="635.5" cy="80.2" rx="2.9" ry="2.1" transform="rotate(24 635.5 80.2)" fill="none" stroke="#6e3422" stroke-width="1.2"/>
<ellipse cx="663.1" cy="111.8" rx="3.7" ry="1.9" transform="rotate(42 663.1 111.8)" fill="#c0d2c0" stroke="#b89a60" stroke-width="1.5" opacity="0.7"/>
<ellipse cx="663.1" cy="111.8" rx="3.7" ry="1.9" transform="rotate(42 663.1 111.8)" fill="none" stroke="#6e3422" stroke-width="1.2"/>
<ellipse cx="672.1" cy="109.8" rx="1.7" ry="1.1" transform="rotate(89 672.1 109.8)" fill="#c0d2c0" stroke="#b89a60" stroke-width="1.5" opacity="0.7"/>
<ellipse cx="672.1" cy="109.8" rx="1.7" ry="1.1" transform="rotate(89 672.1 109.8)" fill="none" stroke="#6e3422" stroke-width="1.2"/>
<ellipse cx="620.3" cy="94.0" rx="1.9" ry="1.5" transform="rotate(57 620.3 94.0)" fill="#c0d2c0" stroke="#b89a60" stroke-width="1.5" opacity="0.7"/>
<ellipse cx="620.3" cy="94.0" rx="1.9" ry="1.5" transform="rotate(57 620.3 94.0)" fill="none" stroke="#6e3422" stroke-width="1.2"/>
<ellipse cx="655.1" cy="140.2" rx="1.9" ry="2.1" transform="rotate(128 655.1 140.2)" fill="#c0d2c0" stroke="#b89a60" stroke-width="1.5" opacity="0.7"/>
<ellipse cx="655.1" cy="140.2" rx="1.9" ry="2.1" transform="rotate(128 655.1 140.2)" fill="none" stroke="#6e3422" stroke-width="1.2"/>
<ellipse cx="672.6" cy="92.9" rx="2.5" ry="1.5" transform="rotate(180 672.6 92.9)" fill="#c0d2c0" stroke="#b89a60" stroke-width="1.5" opacity="0.7"/>
<ellipse cx="672.6" cy="92.9" rx="2.5" ry="1.5" transform="rotate(180 672.6 92.9)" fill="none" stroke="#6e3422" stroke-width="1.2"/>
<ellipse cx="636.3" cy="99.0" rx="2.6" ry="1.4" transform="rotate(9 636.3 99.0)" fill="#c0d2c0" stroke="#b89a60" stroke-width="1.5" opacity="0.7"/>
<ellipse cx="636.3" cy="99.0" rx="2.6" ry="1.4" transform="rotate(9 636.3 99.0)" fill="none" stroke="#6e3422" stroke-width="1.2"/>
<ellipse cx="579.8" cy="139.8" rx="2.3" ry="2.1" transform="rotate(45 579.8 139.8)" fill="#c0d2c0" stroke="#b89a60" stroke-width="1.5" opacity="0.7"/>
<ellipse cx="579.8" cy="139.8" rx="2.3" ry="2.1" transform="rotate(45 579.8 139.8)" fill="none" stroke="#6e3422" stroke-width="1.2"/>
<ellipse cx="598.8" cy="111.9" rx="2.1" ry="1.5" transform="rotate(172 598.8 111.9)" fill="#c0d2c0" stroke="#b89a60" stroke-width="1.5" opacity="0.7"/>
<ellipse cx="598.8" cy="111.9" rx="2.1" ry="1.5" transform="rotate(172 598.8 111.9)" fill="none" stroke="#6e3422" stroke-width="1.2"/>
<ellipse cx="670.6" cy="137.8" rx="3.1" ry="2.1" transform="rotate(169 670.6 137.8)" fill="#c0d2c0" stroke="#b89a60" stroke-width="1.5" opacity="0.7"/>
<ellipse cx="670.6" cy="137.8" rx="3.1" ry="2.1" transform="rotate(169 670.6 137.8)" fill="none" stroke="#6e3422" stroke-width="1.2"/>
<ellipse cx="631.7" cy="129.9" rx="1.7" ry="1.9" transform="rotate(81 631.7 129.9)" fill="#c0d2c0" stroke="#b89a60" stroke-width="1.5" opacity="0.7"/>
<ellipse cx="631.7" cy="129.9" rx="1.7" ry="1.9" transform="rotate(81 631.7 129.9)" fill="none" stroke="#6e3422" stroke-width="1.2"/>
<ellipse cx="655.3" cy="123.4" rx="2.3" ry="1.2" transform="rotate(167 655.3 123.4)" fill="#c0d2c0" stroke="#b89a60" stroke-width="1.5" opacity="0.7"/>
<ellipse cx="655.3" cy="123.4" rx="2.3" ry="1.2" transform="rotate(167 655.3 123.4)" fill="none" stroke="#6e3422" stroke-width="1.2"/>
<ellipse cx="582.8" cy="108.6" rx="2.4" ry="1.4" transform="rotate(133 582.8 108.6)" fill="#c0d2c0" stroke="#b89a60" stroke-width="1.5" opacity="0.7"/>
<ellipse cx="582.8" cy="108.6" rx="2.4" ry="1.4" transform="rotate(133 582.8 108.6)" fill="none" stroke="#6e3422" stroke-width="1.2"/>
<ellipse cx="644.1" cy="93.9" rx="2.9" ry="1.5" transform="rotate(30 644.1 93.9)" fill="#c0d2c0" stroke="#b89a60" stroke-width="1.5" opacity="0.7"/>
<ellipse cx="644.1" cy="93.9" rx="2.9" ry="1.5" transform="rotate(30 644.1 93.9)" fill="none" stroke="#6e3422" stroke-width="1.2"/>
<ellipse cx="586.8" cy="85.9" rx="3.8" ry="1.6" transform="rotate(40 586.8 85.9)" fill="#c0d2c0" stroke="#b89a60" stroke-width="1.5" opacity="0.7"/>
<ellipse cx="586.8" cy="85.9" rx="3.8" ry="1.6" transform="rotate(40 586.8 85.9)" fill="none" stroke="#6e3422" stroke-width="1.2"/>
<ellipse cx="673.1" cy="153.7" rx="2.7" ry="1.3" transform="rotate(35 673.1 153.7)" fill="#c0d2c0" stroke="#b89a60" stroke-width="1.5" opacity="0.7"/>
<ellipse cx="673.1" cy="153.7" rx="2.7" ry="1.3" transform="rotate(35 673.1 153.7)" fill="none" stroke="#6e3422" stroke-width="1.2"/>
<ellipse cx="578.5" cy="97.4" rx="1.8" ry="1.4" transform="rotate(47 578.5 97.4)" fill="#c0d2c0" stroke="#b89a60" stroke-width="1.5" opacity="0.7"/>
<ellipse cx="578.5" cy="97.4" rx="1.8" ry="1.4" transform="rotate(47 578.5 97.4)" fill="none" stroke="#6e3422" stroke-width="1.2"/>
<ellipse cx="634.1" cy="144.3" rx="3.4" ry="1.6" transform="rotate(74 634.1 144.3)" fill="#c0d2c0" stroke="#b89a60" stroke-width="1.5" opacity="0.7"/>
<ellipse cx="634.1" cy="144.3" rx="3.4" ry="1.6" transform="rotate(74 634.1 144.3)" fill="none" stroke="#6e3422" stroke-width="1.2"/>
<ellipse cx="628.8" cy="100.4" rx="2.4" ry="1.2" transform="rotate(50 628.8 100.4)" fill="#c0d2c0" stroke="#b89a60" stroke-width="1.5" opacity="0.7"/>
<ellipse cx="628.8" cy="100.4" rx="2.4" ry="1.2" transform="rotate(50 628.8 100.4)" fill="none" stroke="#6e3422" stroke-width="1.2"/>
<ellipse cx="626.4" cy="122.1" rx="3.7" ry="1.3" transform="rotate(49 626.4 122.1)" fill="#c0d2c0" stroke="#b89a60" stroke-width="1.5" opacity="0.7"/>
<ellipse cx="626.4" cy="122.1" rx="3.7" ry="1.3" transform="rotate(49 626.4 122.1)" fill="none" stroke="#6e3422" stroke-width="1.2"/>
<ellipse cx="596.8" cy="102.4" rx="2.7" ry="2.1" transform="rotate(153 596.8 102.4)" fill="#c0d2c0" stroke="#b89a60" stroke-width="1.5" opacity="0.7"/>
<ellipse cx="596.8" cy="102.4" rx="2.7" ry="2.1" transform="rotate(153 596.8 102.4)" fill="none" stroke="#6e3422" stroke-width="1.2"/>
<ellipse cx="571.7" cy="129.0" rx="3.7" ry="1.6" transform="rotate(106 571.7 129.0)" fill="#c0d2c0" stroke="#b89a60" stroke-width="1.5" opacity="0.7"/>
<ellipse cx="571.7" cy="129.0" rx="3.7" ry="1.6" transform="rotate(106 571.7 129.0)" fill="none" stroke="#6e3422" stroke-width="1.2"/>
<ellipse cx="568.0" cy="101.7" rx="3.8" ry="2.0" transform="rotate(154 568.0 101.7)" fill="#c0d2c0" stroke="#b89a60" stroke-width="1.5" opacity="0.7"/>
<ellipse cx="568.0" cy="101.7" rx="3.8" ry="2.0" transform="rotate(154 568.0 101.7)" fill="none" stroke="#6e3422" stroke-width="1.2"/>
<ellipse cx="580.6" cy="81.3" rx="2.9" ry="1.9" transform="rotate(169 580.6 81.3)" fill="#c0d2c0" stroke="#b89a60" stroke-width="1.5" opacity="0.7"/>
<ellipse cx="580.6" cy="81.3" rx="2.9" ry="1.9" transform="rotate(169 580.6 81.3)" fill="none" stroke="#6e3422" stroke-width="1.2"/>
<ellipse cx="651.7" cy="123.7" rx="3.4" ry="1.6" transform="rotate(99 651.7 123.7)" fill="#c0d2c0" stroke="#b89a60" stroke-width="1.5" opacity="0.7"/>
<ellipse cx="651.7" cy="123.7" rx="3.4" ry="1.6" transform="rotate(99 651.7 123.7)" fill="none" stroke="#6e3422" stroke-width="1.2"/>
<ellipse cx="572.6" cy="135.3" rx="2.2" ry="2.1" transform="rotate(116 572.6 135.3)" fill="#c0d2c0" stroke="#b89a60" stroke-width="1.5" opacity="0.7"/>
<ellipse cx="572.6" cy="135.3" rx="2.2" ry="2.1" transform="rotate(116 572.6 135.3)" fill="none" stroke="#6e3422" stroke-width="1.2"/>
<ellipse cx="603.2" cy="79.0" rx="2.2" ry="1.8" transform="rotate(126 603.2 79.0)" fill="#c0d2c0" stroke="#b89a60" stroke-width="1.5" opacity="0.7"/>
<ellipse cx="603.2" cy="79.0" rx="2.2" ry="1.8" transform="rotate(126 603.2 79.0)" fill="none" stroke="#6e3422" stroke-width="1.2"/>
<ellipse cx="581.0" cy="74.1" rx="2.9" ry="1.7" transform="rotate(70 581.0 74.1)" fill="#c0d2c0" stroke="#b89a60" stroke-width="1.5" opacity="0.7"/>
<ellipse cx="581.0" cy="74.1" rx="2.9" ry="1.7" transform="rotate(70 581.0 74.1)" fill="none" stroke="#6e3422" stroke-width="1.2"/>
<ellipse cx="593.9" cy="119.7" rx="1.6" ry="1.4" transform="rotate(83 593.9 119.7)" fill="#c0d2c0" stroke="#b89a60" stroke-width="1.5" opacity="0.7"/>
<ellipse cx="593.9" cy="119.7" rx="1.6" ry="1.4" transform="rotate(83 593.9 119.7)" fill="none" stroke="#6e3422" stroke-width="1.2"/>
<ellipse cx="679.2" cy="123.4" rx="3.7" ry="1.6" transform="rotate(42 679.2 123.4)" fill="#c0d2c0" stroke="#b89a60" stroke-width="1.5" opacity="0.7"/>
<ellipse cx="679.2" cy="123.4" rx="3.7" ry="1.6" transform="rotate(42 679.2 123.4)" fill="none" stroke="#6e3422" stroke-width="1.2"/>
<ellipse cx="596.7" cy="150.6" rx="3.3" ry="1.4" transform="rotate(4 596.7 150.6)" fill="#c0d2c0" stroke="#b89a60" stroke-width="1.5" opacity="0.7"/>
<ellipse cx="596.7" cy="150.6" rx="3.3" ry="1.4" transform="rotate(4 596.7 150.6)" fill="none" stroke="#6e3422" stroke-width="1.2"/>
<ellipse cx="625.8" cy="126.0" rx="2.6" ry="1.4" transform="rotate(120 625.8 126.0)" fill="#c0d2c0" stroke="#b89a60" stroke-width="1.5" opacity="0.7"/>
<ellipse cx="625.8" cy="126.0" rx="2.6" ry="1.4" transform="rotate(120 625.8 126.0)" fill="none" stroke="#6e3422" stroke-width="1.2"/>
<ellipse cx="572.0" cy="97.1" rx="2.6" ry="1.9" transform="rotate(36 572.0 97.1)" fill="#c0d2c0" stroke="#b89a60" stroke-width="1.5" opacity="0.7"/>
<ellipse cx="572.0" cy="97.1" rx="2.6" ry="1.9" transform="rotate(36 572.0 97.1)" fill="none" stroke="#6e3422" stroke-width="1.2"/>
<ellipse cx="660.5" cy="131.6" rx="2.8" ry="1.3" transform="rotate(175 660.5 131.6)" fill="#c0d2c0" stroke="#b89a60" stroke-width="1.5" opacity="0.7"/>
<ellipse cx="660.5" cy="131.6" rx="2.8" ry="1.3" transform="rotate(175 660.5 131.6)" fill="none" stroke="#6e3422" stroke-width="1.2"/>
<ellipse cx="604.2" cy="138.5" rx="2.2" ry="1.3" transform="rotate(137 604.2 138.5)" fill="#c0d2c0" stroke="#b89a60" stroke-width="1.5" opacity="0.7"/>
<ellipse cx="604.2" cy="138.5" rx="2.2" ry="1.3" transform="rotate(137 604.2 138.5)" fill="none" stroke="#6e3422" stroke-width="1.2"/>
<ellipse cx="602.2" cy="149.9" rx="2.8" ry="1.3" transform="rotate(40 602.2 149.9)" fill="#c0d2c0" stroke="#b89a60" stroke-width="1.5" opacity="0.7"/>
<ellipse cx="602.2" cy="149.9" rx="2.8" ry="1.3" transform="rotate(40 602.2 149.9)" fill="none" stroke="#6e3422" stroke-width="1.2"/>
<ellipse cx="616.4" cy="125.2" rx="3.9" ry="1.3" transform="rotate(71 616.4 125.2)" fill="#c0d2c0" stroke="#b89a60" stroke-width="1.5" opacity="0.7"/>
<ellipse cx="616.4" cy="125.2" rx="3.9" ry="1.3" transform="rotate(71 616.4 125.2)" fill="none" stroke="#6e3422" stroke-width="1.2"/>
<ellipse cx="592.7" cy="151.8" rx="1.9" ry="1.2" transform="rotate(11 592.7 151.8)" fill="#c0d2c0" stroke="#b89a60" stroke-width="1.5" opacity="0.7"/>
<ellipse cx="592.7" cy="151.8" rx="1.9" ry="1.2" transform="rotate(11 592.7 151.8)" fill="none" stroke="#6e3422" stroke-width="1.2"/>
<ellipse cx="613.6" cy="145.2" rx="3.7" ry="1.9" transform="rotate(180 613.6 145.2)" fill="#c0d2c0" stroke="#b89a60" stroke-width="1.5" opacity="0.7"/>
<ellipse cx="613.6" cy="145.2" rx="3.7" ry="1.9" transform="rotate(180 613.6 145.2)" fill="none" stroke="#6e3422" stroke-width="1.2"/>
<ellipse cx="676.1" cy="96.3" rx="2.0" ry="2.1" transform="rotate(134 676.1 96.3)" fill="#c0d2c0" stroke="#b89a60" stroke-width="1.5" opacity="0.7"/>
<ellipse cx="676.1" cy="96.3" rx="2.0" ry="2.1" transform="rotate(134 676.1 96.3)" fill="none" stroke="#6e3422" stroke-width="1.2"/>
<ellipse cx="571.7" cy="125.1" rx="2.5" ry="1.5" transform="rotate(60 571.7 125.1)" fill="#c0d2c0" stroke="#b89a60" stroke-width="1.5" opacity="0.7"/>
<ellipse cx="571.7" cy="125.1" rx="2.5" ry="1.5" transform="rotate(60 571.7 125.1)" fill="none" stroke="#6e3422" stroke-width="1.2"/>
<ellipse cx="587.6" cy="68.2" rx="2.3" ry="1.5" transform="rotate(172 587.6 68.2)" fill="#c0d2c0" stroke="#b89a60" stroke-width="1.5" opacity="0.7"/>
<ellipse cx="587.6" cy="68.2" rx="2.3" ry="1.5" transform="rotate(172 587.6 68.2)" fill="none" stroke="#6e3422" stroke-width="1.2"/>
<ellipse cx="582.4" cy="150.9" rx="2.1" ry="1.5" transform="rotate(148 582.4 150.9)" fill="#c0d2c0" stroke="#b89a60" stroke-width="1.5" opacity="0.7"/>
<ellipse cx="582.4" cy="150.9" rx="2.1" ry="1.5" transform="rotate(148 582.4 150.9)" fill="none" stroke="#6e3422" stroke-width="1.2"/>
<ellipse cx="663.4" cy="105.2" rx="1.7" ry="1.6" transform="rotate(67 663.4 105.2)" fill="#c0d2c0" stroke="#b89a60" stroke-width="1.5" opacity="0.7"/>
<ellipse cx="663.4" cy="105.2" rx="1.7" ry="1.6" transform="rotate(67 663.4 105.2)" fill="none" stroke="#6e3422" stroke-width="1.2"/>
</g>
<path d="M634,67 L685,67 L685,91 C675,88 668,84 660,80 C650,76 642,72 634,67 Z" fill="#d0e4d2"/>
<path d="M634,67 C642,72 650,76 660,80 C668,84 675,88 685,91" fill="none" stroke="#8a5040" stroke-width="1.2" opacity="0.7"/>
<clipPath id="cc21"><circle cx="499.0" cy="27.6" r="25.3"/></clipPath>
<g clip-path="url(#cc21)">
<circle cx="499.0" cy="27.6" r="25.3" fill="#b6d4c8"/>
<g filter="url(#bl15)">
<circle cx="495.7" cy="15.3" r="7.2" fill="#c8dcb0" opacity="0.8"/>
<circle cx="507.9" cy="30.7" r="8.2" fill="#c4d6b8" opacity="0.8"/>
<circle cx="485.4" cy="38.8" r="7.2" fill="#b8d0d0" opacity="0.8"/>
<circle cx="498.7" cy="33.7" r="6.1" fill="#a8b8d0" opacity="0.8"/>
<circle cx="514.0" cy="20.4" r="5.1" fill="#c0d4b0" opacity="0.8"/>
</g>
<filter id="cnz21_0" x="473.7" y="2.3000000000000007" width="50.6" height="50.6" filterUnits="userSpaceOnUse"><feTurbulence type="fractalNoise" baseFrequency="0.16" numOctaves="2" seed="52"/><feColorMatrix type="matrix" values="0 0 0 0 0.627 0 0 0 0 0.376 0 0 0 0 0.165 3.4 0 0 0 -1.4"/></filter>
<rect x="473.7" y="2.3000000000000007" width="50.6" height="50.6" fill="#000" filter="url(#cnz21_0)" opacity="0.8"/>
<filter id="cnz21_1" x="473.7" y="2.3000000000000007" width="50.6" height="50.6" filterUnits="userSpaceOnUse"><feTurbulence type="fractalNoise" baseFrequency="0.2" numOctaves="2" seed="62"/><feColorMatrix type="matrix" values="0 0 0 0 0.314 0 0 0 0 0.376 0 0 0 0 0.816 3.0 0 0 0 -1.55"/></filter>
<rect x="473.7" y="2.3000000000000007" width="50.6" height="50.6" fill="#000" filter="url(#cnz21_1)" opacity="0.8"/>
<filter id="cnz21_2" x="473.7" y="2.3000000000000007" width="50.6" height="50.6" filterUnits="userSpaceOnUse"><feTurbulence type="fractalNoise" baseFrequency="0.22" numOctaves="2" seed="72"/><feColorMatrix type="matrix" values="0 0 0 0 0.847 0 0 0 0 0.816 0 0 0 0 0.439 2.6 0 0 0 -1.4"/></filter>
<rect x="473.7" y="2.3000000000000007" width="50.6" height="50.6" fill="#000" filter="url(#cnz21_2)" opacity="0.8"/>
<path d="M474.2,18.9 L480.3,25.5 L485.4,30.7 L489.0,35.8 L490.8,40.9 L490.0,48.0" stroke="#c88a30" stroke-width="5.6" fill="none" stroke-linejoin="round" opacity="0.8"/>
<path d="M474.2,18.9 L480.3,25.5 L485.4,30.7 L489.0,35.8 L490.8,40.9 L490.0,48.0" stroke="#7a3010" stroke-width="3.4" fill="none" stroke-linejoin="round"/>
<path d="M505.9,12.3 L513.0,17.4 L520.2,24.5 L518.1,33.7 L513.0,40.9 L508.9,49.0" stroke="#b09070" stroke-width="1.6" fill="none" opacity="0.6"/>
<ellipse cx="486.5" cy="8.2" rx="1.7" ry="1.4" transform="rotate(16 486.5 8.2)" fill="#3a56e0" opacity="0.85"/>
<ellipse cx="490.5" cy="11.2" rx="2.0" ry="1.1" transform="rotate(35 490.5 11.2)" fill="#3a56e0" opacity="0.85"/>
<ellipse cx="495.7" cy="9.2" rx="2.4" ry="1.3" transform="rotate(1 495.7 9.2)" fill="#3a56e0" opacity="0.85"/>
<ellipse cx="483.4" cy="15.3" rx="1.8" ry="1.0" transform="rotate(-15 483.4 15.3)" fill="#3a56e0" opacity="0.85"/>
<ellipse cx="488.5" cy="18.4" rx="2.1" ry="1.0" transform="rotate(35 488.5 18.4)" fill="#3a56e0" opacity="0.85"/>
<ellipse cx="493.6" cy="16.3" rx="1.8" ry="1.1" transform="rotate(-55 493.6 16.3)" fill="#3a56e0" opacity="0.85"/>
<ellipse cx="498.7" cy="13.3" rx="2.6" ry="1.4" transform="rotate(45 498.7 13.3)" fill="#3a56e0" opacity="0.85"/>
<ellipse cx="502.8" cy="9.2" rx="2.2" ry="1.0" transform="rotate(-21 502.8 9.2)" fill="#3a56e0" opacity="0.85"/>
<ellipse cx="505.9" cy="6.1" rx="2.0" ry="1.1" transform="rotate(54 505.9 6.1)" fill="#3a56e0" opacity="0.85"/>
<ellipse cx="500.8" cy="20.4" rx="1.9" ry="1.1" transform="rotate(38 500.8 20.4)" fill="#3a56e0" opacity="0.85"/>
<ellipse cx="504.9" cy="24.5" rx="1.6" ry="1.6" transform="rotate(-6 504.9 24.5)" fill="#3a56e0" opacity="0.85"/>
<ellipse cx="495.7" cy="24.5" rx="2.1" ry="1.2" transform="rotate(-2 495.7 24.5)" fill="#3a56e0" opacity="0.85"/>
<ellipse cx="491.6" cy="28.6" rx="1.7" ry="1.0" transform="rotate(44 491.6 28.6)" fill="#3a56e0" opacity="0.85"/>
<ellipse cx="485.4" cy="24.5" rx="1.8" ry="1.5" transform="rotate(-35 485.4 24.5)" fill="#3a56e0" opacity="0.85"/>
<ellipse cx="481.3" cy="21.5" rx="2.6" ry="1.5" transform="rotate(31 481.3 21.5)" fill="#3a56e0" opacity="0.85"/>
<ellipse cx="479.3" cy="30.7" rx="2.3" ry="1.3" transform="rotate(28 479.3 30.7)" fill="#3a56e0" opacity="0.85"/>
<ellipse cx="483.4" cy="33.7" rx="1.6" ry="1.3" transform="rotate(39 483.4 33.7)" fill="#3a56e0" opacity="0.85"/>
<ellipse cx="488.5" cy="33.7" rx="1.7" ry="1.6" transform="rotate(47 488.5 33.7)" fill="#3a56e0" opacity="0.85"/>
<ellipse cx="494.6" cy="31.7" rx="2.0" ry="1.2" transform="rotate(-6 494.6 31.7)" fill="#3a56e0" opacity="0.85"/>
<ellipse cx="499.7" cy="29.6" rx="1.9" ry="1.6" transform="rotate(-14 499.7 29.6)" fill="#3a56e0" opacity="0.85"/>
<ellipse cx="503.8" cy="33.7" rx="1.5" ry="1.1" transform="rotate(26 503.8 33.7)" fill="#3a56e0" opacity="0.85"/>
<ellipse cx="497.7" cy="38.8" rx="2.6" ry="1.3" transform="rotate(-1 497.7 38.8)" fill="#3a56e0" opacity="0.85"/>
<ellipse cx="501.8" cy="42.9" rx="2.1" ry="1.4" transform="rotate(-33 501.8 42.9)" fill="#3a56e0" opacity="0.85"/>
<ellipse cx="494.6" cy="42.9" rx="2.2" ry="1.3" transform="rotate(15 494.6 42.9)" fill="#3a56e0" opacity="0.85"/>
<ellipse cx="490.5" cy="46.0" rx="1.7" ry="1.1" transform="rotate(-18 490.5 46.0)" fill="#3a56e0" opacity="0.85"/>
<ellipse cx="504.9" cy="47.0" rx="2.5" ry="1.2" transform="rotate(12 504.9 47.0)" fill="#3a56e0" opacity="0.85"/>
<ellipse cx="508.9" cy="42.9" rx="1.8" ry="1.1" transform="rotate(-52 508.9 42.9)" fill="#3a56e0" opacity="0.85"/>
<ellipse cx="512.0" cy="30.7" rx="2.4" ry="1.5" transform="rotate(-15 512.0 30.7)" fill="#3a56e0" opacity="0.85"/>
<ellipse cx="516.1" cy="26.6" rx="2.3" ry="1.4" transform="rotate(48 516.1 26.6)" fill="#3a56e0" opacity="0.85"/>
<ellipse cx="518.1" cy="20.4" rx="2.6" ry="1.2" transform="rotate(59 518.1 20.4)" fill="#3a56e0" opacity="0.85"/>
<ellipse cx="514.0" cy="14.3" rx="2.6" ry="1.4" transform="rotate(46 514.0 14.3)" fill="#3a56e0" opacity="0.85"/>
<ellipse cx="510.0" cy="20.4" rx="2.0" ry="1.2" transform="rotate(-30 510.0 20.4)" fill="#3a56e0" opacity="0.85"/>
<ellipse cx="486.5" cy="40.9" rx="2.5" ry="1.1" transform="rotate(-52 486.5 40.9)" fill="#3a56e0" opacity="0.85"/>
<ellipse cx="480.3" cy="38.8" rx="2.4" ry="1.5" transform="rotate(-2 480.3 38.8)" fill="#3a56e0" opacity="0.85"/>
<ellipse cx="492.6" cy="20.4" rx="2.4" ry="1.0" transform="rotate(-29 492.6 20.4)" fill="#3a56e0" opacity="0.85"/>
<ellipse cx="506.9" cy="39.9" rx="1.8" ry="1.3" transform="rotate(-40 506.9 39.9)" fill="#3a56e0" opacity="0.85"/>
</g>
<circle cx="499.0" cy="27.6" r="25.3" fill="none" stroke="#6a6a6a" stroke-width="0.8"/>
<clipPath id="cc22"><circle cx="624.4" cy="26.1" r="25.3"/></clipPath>
<g clip-path="url(#cc22)">
<circle cx="624.4" cy="26.1" r="25.3" fill="#b6d4c8"/>
<g filter="url(#bl15)">
<circle cx="608.4" cy="30.7" r="9.2" fill="#bcdcc8" opacity="0.8"/>
<circle cx="620.7" cy="20.4" r="6.1" fill="#c8dca8" opacity="0.8"/>
<circle cx="632.9" cy="35.8" r="6.1" fill="#c0d8b0" opacity="0.8"/>
<circle cx="605.3" cy="15.3" r="6.1" fill="#b0d0c8" opacity="0.8"/>
</g>
<filter id="cnz22_0" x="599.1" y="0.8000000000000007" width="50.6" height="50.6" filterUnits="userSpaceOnUse"><feTurbulence type="fractalNoise" baseFrequency="0.16" numOctaves="2" seed="53"/><feColorMatrix type="matrix" values="0 0 0 0 0.627 0 0 0 0 0.376 0 0 0 0 0.165 3.4 0 0 0 -1.4"/></filter>
<rect x="599.1" y="0.8000000000000007" width="50.6" height="50.6" fill="#000" filter="url(#cnz22_0)" opacity="0.8"/>
<filter id="cnz22_1" x="599.1" y="0.8000000000000007" width="50.6" height="50.6" filterUnits="userSpaceOnUse"><feTurbulence type="fractalNoise" baseFrequency="0.2" numOctaves="2" seed="63"/><feColorMatrix type="matrix" values="0 0 0 0 0.314 0 0 0 0 0.376 0 0 0 0 0.816 3.0 0 0 0 -1.55"/></filter>
<rect x="599.1" y="0.8000000000000007" width="50.6" height="50.6" fill="#000" filter="url(#cnz22_1)" opacity="0.8"/>
<filter id="cnz22_2" x="599.1" y="0.8000000000000007" width="50.6" height="50.6" filterUnits="userSpaceOnUse"><feTurbulence type="fractalNoise" baseFrequency="0.22" numOctaves="2" seed="73"/><feColorMatrix type="matrix" values="0 0 0 0 0.847 0 0 0 0 0.816 0 0 0 0 0.439 2.6 0 0 0 -1.4"/></filter>
<rect x="599.1" y="0.8000000000000007" width="50.6" height="50.6" fill="#000" filter="url(#cnz22_2)" opacity="0.8"/>
<ellipse cx="623.7" cy="15.8" rx="14.5" ry="8.4" transform="rotate(22 623.7 15.8)" fill="#d0dc98" stroke="#d8d870" stroke-width="6" opacity="0.9"/>
<ellipse cx="623.7" cy="15.8" rx="14.5" ry="8.4" transform="rotate(22 623.7 15.8)" fill="none" stroke="#642c3c" stroke-width="3.4"/>
<ellipse cx="624.7" cy="15.8" rx="8" ry="4" transform="rotate(22 623.7 15.8)" fill="#c4d6b8" stroke="#8a6a70" stroke-width="1"/>
<path d="M619.6,24.5 L623.7,33.7 L626.8,42.9 L629.3,50.1" stroke="#5a2a5a" stroke-width="3.0" fill="none" stroke-linejoin="round" opacity="0.9"/>
<path d="M624.7,23.5 L630.9,31.7 L633.9,38.8 L637.0,48.0" stroke="#6a3040" stroke-width="3.0" fill="none" stroke-linejoin="round" opacity="0.9"/>
<path d="M622.2,24.5 L627.3,32.7 L630.4,40.9 L632.9,49.0" stroke="#e0e060" stroke-width="2.4" fill="none" stroke-linejoin="round" opacity="0.9"/>
<path d="M635.0,4.1 L642.1,11.2 L647.2,19.4 L649.8,26.6" stroke="#5a2a5a" stroke-width="3.2" fill="none" stroke-linejoin="round" opacity="0.9"/>
<path d="M638.0,3.1 L645.2,10.2 L649.8,17.4" stroke="#e0e070" stroke-width="2.0" fill="none" stroke-linejoin="round" opacity="0.9"/>
<ellipse cx="605.3" cy="12.3" rx="2.6" ry="1.1" transform="rotate(-57 605.3 12.3)" fill="#3a56e0" opacity="0.85"/>
<ellipse cx="602.3" cy="17.4" rx="2.6" ry="1.1" transform="rotate(-46 602.3 17.4)" fill="#3a56e0" opacity="0.85"/>
<ellipse cx="610.4" cy="24.5" rx="2.2" ry="1.2" transform="rotate(47 610.4 24.5)" fill="#3a56e0" opacity="0.85"/>
<ellipse cx="616.6" cy="32.7" rx="1.8" ry="1.7" transform="rotate(-22 616.6 32.7)" fill="#3a56e0" opacity="0.85"/>
<ellipse cx="619.6" cy="36.8" rx="2.2" ry="1.7" transform="rotate(22 619.6 36.8)" fill="#3a56e0" opacity="0.85"/>
<ellipse cx="620.7" cy="41.9" rx="2.5" ry="1.5" transform="rotate(-54 620.7 41.9)" fill="#3a56e0" opacity="0.85"/>
<ellipse cx="618.6" cy="47.0" rx="2.5" ry="1.4" transform="rotate(-23 618.6 47.0)" fill="#3a56e0" opacity="0.85"/>
<ellipse cx="613.5" cy="27.6" rx="1.7" ry="1.6" transform="rotate(10 613.5 27.6)" fill="#3a56e0" opacity="0.85"/>
<ellipse cx="624.7" cy="6.1" rx="2.5" ry="1.5" transform="rotate(55 624.7 6.1)" fill="#3a56e0" opacity="0.85"/>
<ellipse cx="614.5" cy="4.1" rx="2.1" ry="1.5" transform="rotate(13 614.5 4.1)" fill="#3a56e0" opacity="0.85"/>
<ellipse cx="636.0" cy="8.2" rx="1.8" ry="1.7" transform="rotate(-23 636.0 8.2)" fill="#3a56e0" opacity="0.85"/>
<ellipse cx="643.1" cy="32.7" rx="2.4" ry="1.7" transform="rotate(18 643.1 32.7)" fill="#3a56e0" opacity="0.85"/>
<ellipse cx="647.2" cy="28.6" rx="1.7" ry="1.6" transform="rotate(20 647.2 28.6)" fill="#3a56e0" opacity="0.85"/>
<ellipse cx="632.9" cy="28.6" rx="1.7" ry="1.0" transform="rotate(4 632.9 28.6)" fill="#3a56e0" opacity="0.85"/>
<ellipse cx="630.9" cy="20.4" rx="1.5" ry="1.6" transform="rotate(1 630.9 20.4)" fill="#3a56e0" opacity="0.85"/>
<ellipse cx="625.8" cy="25.5" rx="2.1" ry="1.3" transform="rotate(19 625.8 25.5)" fill="#3a56e0" opacity="0.85"/>
<ellipse cx="627.8" cy="13.3" rx="2.5" ry="1.2" transform="rotate(-15 627.8 13.3)" fill="#3a56e0" opacity="0.85"/>
<ellipse cx="635.0" cy="24.5" rx="2.1" ry="1.2" transform="rotate(11 635.0 24.5)" fill="#3a56e0" opacity="0.85"/>
<ellipse cx="608.4" cy="21.5" rx="2.1" ry="1.3" transform="rotate(21 608.4 21.5)" fill="#3a56e0" opacity="0.85"/>
<ellipse cx="603.3" cy="33.7" rx="2.1" ry="1.1" transform="rotate(60 603.3 33.7)" fill="#3a56e0" opacity="0.85"/>
<ellipse cx="606.3" cy="35.8" rx="1.9" ry="1.3" transform="rotate(-12 606.3 35.8)" fill="#3a56e0" opacity="0.85"/>
<ellipse cx="641.1" cy="40.9" rx="2.5" ry="1.7" transform="rotate(1 641.1 40.9)" fill="#3a56e0" opacity="0.85"/>
<ellipse cx="623.7" cy="49.0" rx="1.9" ry="1.1" transform="rotate(47 623.7 49.0)" fill="#3a56e0" opacity="0.85"/>
<ellipse cx="615.5" cy="18.4" rx="1.7" ry="1.4" transform="rotate(-18 615.5 18.4)" fill="#3a56e0" opacity="0.85"/>
<ellipse cx="605.8" cy="34.7" rx="3" ry="2.4" fill="#2a3ac0" opacity="0.9"/>
</g>
<circle cx="624.4" cy="26.1" r="25.3" fill="none" stroke="#6a6a6a" stroke-width="0.8"/>
<line x1="479.30" y1="43.00" x2="491.80" y2="67.50" stroke="#555" stroke-width="0.6"/>
<line x1="524.20" y1="31.00" x2="525.30" y2="67.50" stroke="#555" stroke-width="0.6"/>
<line x1="605.30" y1="44.00" x2="619.60" y2="67.00" stroke="#555" stroke-width="0.6"/>
<line x1="649.60" y1="29.00" x2="653.90" y2="67.00" stroke="#555" stroke-width="0.6"/>
<line x1="50.80" y1="216.20" x2="50.80" y2="313.60" stroke="#222" stroke-width="1.1"/>
<line x1="48.00" y1="216.70" x2="50.80" y2="216.70" stroke="#222" stroke-width="1.1"/>
<text x="47.00" y="219.15" font-size="7" text-anchor="end" font-weight="bold" fill="#111">0.5</text>
<line x1="48.00" y1="236.00" x2="50.80" y2="236.00" stroke="#222" stroke-width="1.1"/>
<text x="47.00" y="238.45" font-size="7" text-anchor="end" font-weight="bold" fill="#111">0.4</text>
<line x1="48.00" y1="255.30" x2="50.80" y2="255.30" stroke="#222" stroke-width="1.1"/>
<text x="47.00" y="257.75" font-size="7" text-anchor="end" font-weight="bold" fill="#111">0.3</text>
<line x1="48.00" y1="274.50" x2="50.80" y2="274.50" stroke="#222" stroke-width="1.1"/>
<text x="47.00" y="276.95" font-size="7" text-anchor="end" font-weight="bold" fill="#111">0.2</text>
<line x1="48.00" y1="293.80" x2="50.80" y2="293.80" stroke="#222" stroke-width="1.1"/>
<text x="47.00" y="296.25" font-size="7" text-anchor="end" font-weight="bold" fill="#111">0.1</text>
<line x1="48.00" y1="313.10" x2="50.80" y2="313.10" stroke="#222" stroke-width="1.1"/>
<text x="47.00" y="315.55" font-size="7" text-anchor="end" font-weight="bold" fill="#111">0.0</text>
<line x1="50.80" y1="313.10" x2="196.80" y2="313.10" stroke="#222" stroke-width="1.1"/>
<line x1="92.80" y1="313.10" x2="92.80" y2="315.80" stroke="#222" stroke-width="1.1"/>
<line x1="154.70" y1="313.10" x2="154.70" y2="315.80" stroke="#222" stroke-width="1.1"/>
<text x="92.80" y="324.20" font-size="6.9" text-anchor="middle" font-weight="bold">N</text>
<text x="154.70" y="324.20" font-size="6.9" text-anchor="middle" font-weight="bold">T</text>
<text font-size="1" transform="matrix(0 -7.9485 7.2727 0 31.773 325.200)" font-weight="bold" fill="#000">Average Optical Density of SPI1</text>
<text font-size="1" transform="matrix(7.6566 0 0 8.3099 159.100 208.617)" fill="#000">P&lt;0.0001</text>
<line x1="92.90" y1="270.10" x2="92.90" y2="297.40" stroke="#8080ff" stroke-width="1.0"/>
<line x1="83.30" y1="270.10" x2="102.80" y2="270.10" stroke="#3a2ff0" stroke-width="1.0"/>
<line x1="83.30" y1="297.40" x2="102.80" y2="297.40" stroke="#3a2ff0" stroke-width="1.0"/>
<line x1="72.10" y1="283.30" x2="113.80" y2="283.30" stroke="#3a2ff0" stroke-width="1.1"/>
<circle cx="92.7" cy="256.8" r="2.0" fill="#3a2ff0"/>
<circle cx="81.7" cy="263.5" r="2.0" fill="#3a2ff0"/>
<circle cx="81.7" cy="267.7" r="2.0" fill="#3a2ff0"/>
<circle cx="96.7" cy="264.9" r="2.0" fill="#3a2ff0"/>
<circle cx="104.1" cy="266.1" r="2.0" fill="#3a2ff0"/>
<circle cx="96.7" cy="269.4" r="2.0" fill="#3a2ff0"/>
<circle cx="104.1" cy="271" r="2.0" fill="#3a2ff0"/>
<circle cx="89.1" cy="271.7" r="2.0" fill="#3a2ff0"/>
<circle cx="81.7" cy="273.3" r="2.0" fill="#3a2ff0"/>
<circle cx="74.2" cy="277.7" r="2.0" fill="#3a2ff0"/>
<circle cx="104.1" cy="277.3" r="2.0" fill="#3a2ff0"/>
<circle cx="111.6" cy="278.1" r="2.0" fill="#3a2ff0"/>
<circle cx="96.7" cy="279.1" r="2.0" fill="#3a2ff0"/>
<circle cx="89.1" cy="280.5" r="2.0" fill="#3a2ff0"/>
<circle cx="96.7" cy="284.4" r="2.0" fill="#3a2ff0"/>
<circle cx="81.7" cy="287" r="2.0" fill="#3a2ff0"/>
<circle cx="104.1" cy="286" r="2.0" fill="#3a2ff0"/>
<circle cx="96.7" cy="289.4" r="2.0" fill="#3a2ff0"/>
<circle cx="89.1" cy="291" r="2.0" fill="#3a2ff0"/>
<circle cx="74.2" cy="293.4" r="2.0" fill="#3a2ff0"/>
<circle cx="81.7" cy="292.2" r="2.0" fill="#3a2ff0"/>
<circle cx="96.7" cy="294.3" r="2.0" fill="#3a2ff0"/>
<circle cx="104.1" cy="293.8" r="2.0" fill="#3a2ff0"/>
<circle cx="111.6" cy="293.8" r="2.0" fill="#3a2ff0"/>
<circle cx="81.7" cy="297.4" r="2.0" fill="#3a2ff0"/>
<circle cx="89.1" cy="297" r="2.0" fill="#3a2ff0"/>
<circle cx="96.7" cy="299" r="2.0" fill="#3a2ff0"/>
<circle cx="85.5" cy="305.3" r="2.0" fill="#3a2ff0"/>
<circle cx="92.7" cy="303.4" r="2.0" fill="#3a2ff0"/>
<circle cx="100.3" cy="305" r="2.0" fill="#3a2ff0"/>
<line x1="154.90" y1="244.20" x2="154.90" y2="277.20" stroke="#ff9090" stroke-width="1.0"/>
<line x1="144.50" y1="244.20" x2="165.20" y2="244.20" stroke="#ff2a2a" stroke-width="1.0"/>
<line x1="144.50" y1="277.20" x2="165.20" y2="277.20" stroke="#ff2a2a" stroke-width="1.0"/>
<line x1="134.20" y1="261.00" x2="175.80" y2="261.00" stroke="#ff8c8c" stroke-width="1.3"/>
<rect x="153.00" y="224.90" width="3.80" height="3.80" fill="#ff2a2a"/>
<rect x="153.00" y="233.10" width="3.80" height="3.80" fill="#ff2a2a"/>
<rect x="153.00" y="242.00" width="3.80" height="3.80" fill="#ff2a2a"/>
<rect x="153.00" y="250.00" width="3.80" height="3.80" fill="#ff2a2a"/>
<rect x="153.00" y="257.50" width="3.80" height="3.80" fill="#ff2a2a"/>
<rect x="153.00" y="266.70" width="3.80" height="3.80" fill="#ff2a2a"/>
<rect x="153.00" y="273.00" width="3.80" height="3.80" fill="#ff2a2a"/>
<rect x="153.00" y="278.10" width="3.80" height="3.80" fill="#ff2a2a"/>
<rect x="153.00" y="283.80" width="3.80" height="3.80" fill="#ff2a2a"/>
<rect x="153.00" y="288.00" width="3.80" height="3.80" fill="#ff2a2a"/>
<rect x="145.20" y="229.80" width="3.80" height="3.80" fill="#ff2a2a"/>
<rect x="145.20" y="247.20" width="3.80" height="3.80" fill="#ff2a2a"/>
<rect x="145.20" y="250.90" width="3.80" height="3.80" fill="#ff2a2a"/>
<rect x="145.20" y="255.60" width="3.80" height="3.80" fill="#ff2a2a"/>
<rect x="145.20" y="258.40" width="3.80" height="3.80" fill="#ff2a2a"/>
<rect x="145.20" y="260.80" width="3.80" height="3.80" fill="#ff2a2a"/>
<rect x="145.20" y="264.50" width="3.80" height="3.80" fill="#ff2a2a"/>
<rect x="145.20" y="275.30" width="3.80" height="3.80" fill="#ff2a2a"/>
<rect x="145.20" y="280.00" width="3.80" height="3.80" fill="#ff2a2a"/>
<rect x="160.70" y="230.30" width="3.80" height="3.80" fill="#ff2a2a"/>
<rect x="160.70" y="248.10" width="3.80" height="3.80" fill="#ff2a2a"/>
<rect x="160.70" y="253.00" width="3.80" height="3.80" fill="#ff2a2a"/>
<rect x="160.70" y="265.00" width="3.80" height="3.80" fill="#ff2a2a"/>
<rect x="160.70" y="273.00" width="3.80" height="3.80" fill="#ff2a2a"/>
<rect x="160.70" y="280.80" width="3.80" height="3.80" fill="#ff2a2a"/>
<rect x="168.40" y="247.90" width="3.80" height="3.80" fill="#ff2a2a"/>
<rect x="168.40" y="256.10" width="3.80" height="3.80" fill="#ff2a2a"/>
<rect x="168.40" y="263.60" width="3.80" height="3.80" fill="#ff2a2a"/>
<rect x="168.40" y="272.00" width="3.80" height="3.80" fill="#ff2a2a"/>
<rect x="137.50" y="256.10" width="3.80" height="3.80" fill="#ff2a2a"/>
<rect x="137.50" y="262.90" width="3.80" height="3.80" fill="#ff2a2a"/>
<rect x="311.50" y="234.40" width="302.50" height="24.00" fill="#fff" stroke="#555" stroke-width="1.0"/>
<rect x="311.50" y="274.30" width="302.50" height="24.10" fill="#fff" stroke="#555" stroke-width="1.0"/>
<text font-size="1" transform="matrix(12.0968 0 0 16.1972 273.300 254.638)" fill="#000" stroke="#000" stroke-width="0.0283" stroke-linejoin="round">SPI1</text>
<text font-size="1" transform="matrix(13.2489 0 0 15.7746 260.800 290.242)" fill="#000" stroke="#000" stroke-width="0.0276" stroke-linejoin="round">GAPDH</text>
<text font-size="1" transform="matrix(9.9099 0 0 12.6761 618.100 250.273)" fill="#000" stroke="#000" stroke-width="0.0354" stroke-linejoin="round">31</text>
<text font-size="1" transform="matrix(11.0811 0 0 12.3944 618.100 290.076)" fill="#000" stroke="#000" stroke-width="0.0341" stroke-linejoin="round">37</text>
<text font-size="1" transform="matrix(10.2703 0 0 11.3043 347.000 211.600)" fill="#000" stroke="#000" stroke-width="0.0371" stroke-linejoin="round">#1</text>
<line x1="327.00" y1="217.20" x2="375.20" y2="217.20" stroke="#333" stroke-width="1.0"/>
<text font-size="1" transform="matrix(12.0833 0 0 15.2174 332.000 230.700)" fill="#000" stroke="#000" stroke-width="0.0293" stroke-linejoin="round">N</text>
<text font-size="1" transform="matrix(11.9672 0 0 15.2174 363.600 230.700)" fill="#000" stroke="#000" stroke-width="0.0294" stroke-linejoin="round">T</text>
<text font-size="1" transform="matrix(10.2703 0 0 11.1429 416.100 211.600)" fill="#000" stroke="#000" stroke-width="0.0374" stroke-linejoin="round">#2</text>
<line x1="396.10" y1="217.20" x2="443.40" y2="217.20" stroke="#333" stroke-width="1.0"/>
<text font-size="1" transform="matrix(12.0833 0 0 15.2174 400.450 230.700)" fill="#000" stroke="#000" stroke-width="0.0293" stroke-linejoin="round">N</text>
<text font-size="1" transform="matrix(11.9672 0 0 15.2174 431.950 230.700)" fill="#000" stroke="#000" stroke-width="0.0294" stroke-linejoin="round">T</text>
<text font-size="1" transform="matrix(10.2703 0 0 10.9859 487.900 211.490)" fill="#000" stroke="#000" stroke-width="0.0376" stroke-linejoin="round">#3</text>
<line x1="467.80" y1="217.20" x2="515.40" y2="217.20" stroke="#333" stroke-width="1.0"/>
<text font-size="1" transform="matrix(12.0833 0 0 15.2174 472.450 230.700)" fill="#000" stroke="#000" stroke-width="0.0293" stroke-linejoin="round">N</text>
<text font-size="1" transform="matrix(11.9672 0 0 15.2174 503.350 230.700)" fill="#000" stroke="#000" stroke-width="0.0294" stroke-linejoin="round">T</text>
<text font-size="1" transform="matrix(10.2703 0 0 11.3043 560.100 211.600)" fill="#000" stroke="#000" stroke-width="0.0371" stroke-linejoin="round">#4</text>
<line x1="540.00" y1="217.20" x2="587.60" y2="217.20" stroke="#333" stroke-width="1.0"/>
<text font-size="1" transform="matrix(12.0833 0 0 15.2174 544.650 230.700)" fill="#000" stroke="#000" stroke-width="0.0293" stroke-linejoin="round">N</text>
<text font-size="1" transform="matrix(11.9672 0 0 15.2174 575.550 230.700)" fill="#000" stroke="#000" stroke-width="0.0294" stroke-linejoin="round">T</text>
<rect x="325.3" y="243.8" width="20.8" height="3.0" rx="1.5" fill="#000" opacity="0.85" filter="url(#bl10)"/>
<rect x="357.7" y="243.0" width="24.6" height="4.8" rx="2.4" fill="#000" opacity="1" filter="url(#bl10)"/>
<rect x="368.0" y="238.8" width="14.0" height="3.5" rx="1.8" fill="#000" opacity="0.12" filter="url(#bl15)"/>
<rect x="393.2" y="245.6" width="23.7" height="3.8" rx="1.9" fill="#000" opacity="0.95" filter="url(#bl10)"/>
<rect x="428.2" y="247.2" width="21.8" height="3.6" rx="1.8" fill="#000" opacity="0.85" filter="url(#bl10)"/>
<rect x="443.0" y="247.8" width="10.8" height="6.4" rx="3.2" fill="#000" opacity="1" filter="url(#bl10)"/>
<rect x="430.0" y="240.5" width="22.0" height="5.0" rx="2.5" fill="#000" opacity="0.08" filter="url(#bl15)"/>
<rect x="465.7" y="247.1" width="20.3" height="3.0" rx="1.5" fill="#000" opacity="0.6" filter="url(#bl10)"/>
<rect x="470.0" y="240.0" width="14.0" height="4.0" rx="2.0" fill="#000" opacity="0.06" filter="url(#bl15)"/>
<rect x="497.3" y="246.0" width="28.3" height="5.2" rx="2.6" fill="#000" opacity="1" filter="url(#bl10)"/>
<rect x="535.8" y="244.0" width="21.5" height="3.8" rx="1.9" fill="#000" opacity="0.95" filter="url(#bl10)"/>
<rect x="567.5" y="243.0" width="31.7" height="6.8" rx="3.4" fill="#000" opacity="1" filter="url(#bl10)"/>
<rect x="326.9" y="277.0" width="22.7" height="7.0" rx="2.0" fill="#000" opacity="0.12" filter="url(#bl20)"/>
<rect x="361.3" y="277.0" width="23.3" height="7.0" rx="2.0" fill="#000" opacity="0.12" filter="url(#bl20)"/>
<rect x="396.3" y="277.0" width="24.5" height="7.0" rx="2.0" fill="#000" opacity="0.12" filter="url(#bl20)"/>
<rect x="432.4" y="277.0" width="24.5" height="7.0" rx="2.0" fill="#000" opacity="0.12" filter="url(#bl20)"/>
<rect x="468.8" y="277.0" width="23.6" height="7.0" rx="2.0" fill="#000" opacity="0.12" filter="url(#bl20)"/>
<rect x="503.9" y="277.0" width="23.1" height="7.0" rx="2.0" fill="#000" opacity="0.12" filter="url(#bl20)"/>
<rect x="540.1" y="277.0" width="22.0" height="7.0" rx="2.0" fill="#000" opacity="0.12" filter="url(#bl20)"/>
<rect x="574.0" y="277.0" width="23.2" height="7.0" rx="2.0" fill="#000" opacity="0.12" filter="url(#bl20)"/>
<rect x="324.9" y="282.0" width="26.7" height="7.6" rx="3.8" fill="#000" opacity="0.8" filter="url(#bl13)"/>
<rect x="338.0" y="283.5" width="13.6" height="7.0" rx="3.5" fill="#000" opacity="1" filter="url(#bl13)"/>
<rect x="359.3" y="284.3" width="27.3" height="8.0" rx="4.0" fill="#000" opacity="1" filter="url(#bl13)"/>
<rect x="394.3" y="283.6" width="28.5" height="8.0" rx="4.0" fill="#000" opacity="1" filter="url(#bl13)"/>
<rect x="430.4" y="282.8" width="28.5" height="8.4" rx="4.2" fill="#000" opacity="1" filter="url(#bl13)"/>
<rect x="466.8" y="282.6" width="27.6" height="8.6" rx="4.3" fill="#000" opacity="1" filter="url(#bl13)"/>
<rect x="501.9" y="282.8" width="27.1" height="8.4" rx="4.2" fill="#000" opacity="1" filter="url(#bl13)"/>
<rect x="538.1" y="282.5" width="26.0" height="8.6" rx="4.3" fill="#000" opacity="1" filter="url(#bl13)"/>
<rect x="572.0" y="282.6" width="27.2" height="8.4" rx="4.2" fill="#000" opacity="1" filter="url(#bl13)"/>
<line x1="53.90" y1="368.30" x2="53.90" y2="466.00" stroke="#222" stroke-width="1.1"/>
<line x1="50.20" y1="368.80" x2="53.90" y2="368.80" stroke="#222" stroke-width="1.1"/>
<text x="48.30" y="371.25" font-size="7" text-anchor="end" font-weight="bold" fill="#111">3</text>
<line x1="50.20" y1="401.20" x2="53.90" y2="401.20" stroke="#222" stroke-width="1.1"/>
<text x="48.30" y="403.65" font-size="7" text-anchor="end" font-weight="bold" fill="#111">2</text>
<line x1="50.20" y1="433.40" x2="53.90" y2="433.40" stroke="#222" stroke-width="1.1"/>
<text x="48.30" y="435.85" font-size="7" text-anchor="end" font-weight="bold" fill="#111">1</text>
<line x1="50.20" y1="465.50" x2="53.90" y2="465.50" stroke="#222" stroke-width="1.1"/>
<text x="48.30" y="467.95" font-size="7" text-anchor="end" font-weight="bold" fill="#111">0</text>
<line x1="53.90" y1="465.50" x2="198.90" y2="465.50" stroke="#222" stroke-width="1.1"/>
<text font-size="1" transform="matrix(0 -7.9174 6.9519 0 38.940 474.400)" font-weight="bold" fill="#000">Relative SPI1 mRNA expressin</text>
<line x1="71.90" y1="402.70" x2="71.90" y2="409.20" stroke="#999" stroke-width="0.8"/>
<line x1="67.60" y1="402.70" x2="76.20" y2="402.70" stroke="#999" stroke-width="0.8"/>
<rect x="62.80" y="409.20" width="18.20" height="56.30" fill="#1400ff"/>
<rect x="71.10" y="400.90" width="1.60" height="1.60" fill="#000"/>
<rect x="71.10" y="408.40" width="1.60" height="1.60" fill="#000"/>
<rect x="71.10" y="414.60" width="1.60" height="1.60" fill="#000"/>
<line x1="71.90" y1="465.50" x2="71.90" y2="468.20" stroke="#222" stroke-width="1.1"/>
<text x="71.90" y="477.00" font-size="7.0" text-anchor="middle" font-weight="bold">Caki-1</text>
<line x1="98.90" y1="394.50" x2="98.90" y2="406.00" stroke="#999" stroke-width="0.8"/>
<line x1="94.60" y1="394.50" x2="103.20" y2="394.50" stroke="#999" stroke-width="0.8"/>
<rect x="89.70" y="406.00" width="18.40" height="59.50" fill="#ff2010"/>
<rect x="98.10" y="392.70" width="1.60" height="1.60" fill="#000"/>
<rect x="98.10" y="408.60" width="1.60" height="1.60" fill="#000"/>
<rect x="98.10" y="414.60" width="1.60" height="1.60" fill="#000"/>
<line x1="98.90" y1="465.50" x2="98.90" y2="468.20" stroke="#222" stroke-width="1.1"/>
<text x="98.90" y="477.00" font-size="7.0" text-anchor="middle" font-weight="bold">786-O</text>
<line x1="126.00" y1="379.20" x2="126.00" y2="390.80" stroke="#999" stroke-width="0.8"/>
<line x1="121.70" y1="379.20" x2="130.30" y2="379.20" stroke="#999" stroke-width="0.8"/>
<rect x="116.90" y="390.80" width="18.20" height="74.70" fill="#44e020"/>
<rect x="125.20" y="377.00" width="1.60" height="1.60" fill="#000"/>
<rect x="125.20" y="391.10" width="1.60" height="1.60" fill="#000"/>
<rect x="125.20" y="401.90" width="1.60" height="1.60" fill="#000"/>
<line x1="126.00" y1="465.50" x2="126.00" y2="468.20" stroke="#222" stroke-width="1.1"/>
<text x="126.00" y="477.00" font-size="7.0" text-anchor="middle" font-weight="bold">ACHN</text>
<line x1="153.10" y1="409.90" x2="153.10" y2="417.40" stroke="#999" stroke-width="0.8"/>
<line x1="148.80" y1="409.90" x2="157.40" y2="409.90" stroke="#999" stroke-width="0.8"/>
<rect x="143.90" y="417.40" width="18.40" height="48.10" fill="#cc22ff"/>
<rect x="152.30" y="407.60" width="1.60" height="1.60" fill="#000"/>
<rect x="152.30" y="418.90" width="1.60" height="1.60" fill="#000"/>
<rect x="152.30" y="423.00" width="1.60" height="1.60" fill="#000"/>
<line x1="153.10" y1="465.50" x2="153.10" y2="468.20" stroke="#222" stroke-width="1.1"/>
<text x="153.10" y="477.00" font-size="7.0" text-anchor="middle" font-weight="bold">A498</text>
<rect x="171.10" y="433.40" width="18.20" height="32.10" fill="#f08020"/>
<line x1="180.20" y1="465.50" x2="180.20" y2="468.20" stroke="#222" stroke-width="1.1"/>
<text x="180.20" y="477.00" font-size="7.0" text-anchor="middle" font-weight="bold">HK-2</text>
<rect x="265.30" y="409.00" width="188.10" height="18.50" fill="#fff" stroke="#555" stroke-width="1.0"/>
<rect x="265.30" y="439.10" width="188.10" height="18.40" fill="#fff" stroke="#555" stroke-width="1.0"/>
<text font-size="1" transform="matrix(9.9539 0 0 12.9577 233.200 422.970)" fill="#000" stroke="#000" stroke-width="0.0349" stroke-linejoin="round">SPI1</text>
<text font-size="1" transform="matrix(10.8861 0 0 12.6761 221.100 452.773)" fill="#000" stroke="#000" stroke-width="0.0340" stroke-linejoin="round">GAPDH</text>
<text font-size="1" transform="matrix(9.9099 0 0 12.3944 458.100 422.876)" fill="#000" stroke="#000" stroke-width="0.0359" stroke-linejoin="round">31</text>
<text font-size="1" transform="matrix(10.7207 0 0 12.1127 458.100 451.579)" fill="#000" stroke="#000" stroke-width="0.0350" stroke-linejoin="round">37</text>
<text x="0" y="0" font-size="13.4" text-anchor="middle" stroke="#000" stroke-width="0.4" transform="translate(299.30 388.50) rotate(-49) translate(0 4.82)">Caki-1</text>
<text x="0" y="0" font-size="13.4" text-anchor="middle" stroke="#000" stroke-width="0.4" transform="translate(329.40 389.20) rotate(-49) translate(0 4.82)">786-O</text>
<text x="0" y="0" font-size="13.4" text-anchor="middle" stroke="#000" stroke-width="0.4" transform="translate(362.90 389.00) rotate(-49) translate(0 4.82)">ACHN</text>
<text x="0" y="0" font-size="13.4" text-anchor="middle" stroke="#000" stroke-width="0.4" transform="translate(392.00 390.70) rotate(-49) translate(0 4.82)">A498</text>
<text x="0" y="0" font-size="13.4" text-anchor="middle" stroke="#000" stroke-width="0.4" transform="translate(425.90 392.60) rotate(-49) translate(0 4.82)">HK-2</text>
<rect x="278.9" y="416.5" width="27.7" height="5.0" rx="2.5" fill="#000" opacity="0.62" filter="url(#bl13)"/>
<rect x="282.9" y="417.5" width="21.7" height="3.0" rx="1.5" fill="#000" opacity="0.345" filter="url(#bl20)"/>
<rect x="310.8" y="416.5" width="27.7" height="5.0" rx="2.5" fill="#000" opacity="0.5" filter="url(#bl13)"/>
<rect x="314.8" y="417.5" width="21.7" height="3.0" rx="1.5" fill="#000" opacity="0.22500000000000003" filter="url(#bl20)"/>
<rect x="344.0" y="415.9" width="27.8" height="5.0" rx="2.5" fill="#000" opacity="0.75" filter="url(#bl13)"/>
<rect x="348.0" y="416.9" width="21.8" height="3.0" rx="1.5" fill="#000" opacity="0.29999999999999993" filter="url(#bl20)"/>
<rect x="376.0" y="415.7" width="27.7" height="4.6" rx="2.3" fill="#000" opacity="0.5" filter="url(#bl13)"/>
<rect x="380.0" y="416.6" width="21.7" height="2.8" rx="1.4" fill="#000" opacity="0.22500000000000003" filter="url(#bl20)"/>
<rect x="407.9" y="416.3" width="26.3" height="4.4" rx="2.2" fill="#000" opacity="0.22" filter="url(#bl13)"/>
<rect x="411.9" y="417.2" width="20.3" height="2.6" rx="1.3" fill="#000" opacity="0.09000000000000004" filter="url(#bl20)"/>
<rect x="276.1" y="442.3" width="31.5" height="10.6" rx="4.5" fill="#000" opacity="1" filter="url(#bl12)"/>
<rect x="308.8" y="442.3" width="31.6" height="10.6" rx="4.5" fill="#000" opacity="1" filter="url(#bl12)"/>
<rect x="340.8" y="442.3" width="32.8" height="10.6" rx="4.5" fill="#000" opacity="1" filter="url(#bl12)"/>
<rect x="375.4" y="442.3" width="31.6" height="10.6" rx="4.5" fill="#000" opacity="1" filter="url(#bl12)"/>
<rect x="407.4" y="442.3" width="29.6" height="10.6" rx="4.5" fill="#000" opacity="1" filter="url(#bl12)"/>
<rect x="517.00" y="346.00" width="146.40" height="139.50" fill="none" stroke="#888" stroke-width="0.8"/>
<line x1="513.20" y1="480.60" x2="517.00" y2="480.60" stroke="#888" stroke-width="0.8"/>
<text x="508.90" y="480.60" font-size="6.3" text-anchor="middle" fill="#333" transform="rotate(-90 508.90 480.60)">0.0</text>
<line x1="513.20" y1="454.74" x2="517.00" y2="454.74" stroke="#888" stroke-width="0.8"/>
<text x="508.90" y="454.74" font-size="6.3" text-anchor="middle" fill="#333" transform="rotate(-90 508.90 454.74)">0.2</text>
<line x1="513.20" y1="428.88" x2="517.00" y2="428.88" stroke="#888" stroke-width="0.8"/>
<text x="508.90" y="428.88" font-size="6.3" text-anchor="middle" fill="#333" transform="rotate(-90 508.90 428.88)">0.4</text>
<line x1="513.20" y1="403.02" x2="517.00" y2="403.02" stroke="#888" stroke-width="0.8"/>
<text x="508.90" y="403.02" font-size="6.3" text-anchor="middle" fill="#333" transform="rotate(-90 508.90 403.02)">0.6</text>
<line x1="513.20" y1="377.16" x2="517.00" y2="377.16" stroke="#888" stroke-width="0.8"/>
<text x="508.90" y="377.16" font-size="6.3" text-anchor="middle" fill="#333" transform="rotate(-90 508.90 377.16)">0.8</text>
<line x1="513.20" y1="351.30" x2="517.00" y2="351.30" stroke="#888" stroke-width="0.8"/>
<text x="508.90" y="351.30" font-size="6.3" text-anchor="middle" fill="#333" transform="rotate(-90 508.90 351.30)">1.0</text>
<line x1="517.00" y1="485.50" x2="657.30" y2="485.50" stroke="#888" stroke-width="0.8"/>
<line x1="517.00" y1="485.50" x2="517.00" y2="488.60" stroke="#888" stroke-width="0.8"/>
<text x="517.00" y="498.50" font-size="6.3" text-anchor="middle" fill="#333">0</text>
<line x1="563.77" y1="485.50" x2="563.77" y2="488.60" stroke="#888" stroke-width="0.8"/>
<text x="563.77" y="498.50" font-size="6.3" text-anchor="middle" fill="#333">50</text>
<line x1="610.53" y1="485.50" x2="610.53" y2="488.60" stroke="#888" stroke-width="0.8"/>
<text x="610.53" y="498.50" font-size="6.3" text-anchor="middle" fill="#333">100</text>
<line x1="657.30" y1="485.50" x2="657.30" y2="488.60" stroke="#888" stroke-width="0.8"/>
<text x="657.30" y="498.50" font-size="6.3" text-anchor="middle" fill="#333">150</text>
<text font-size="1" transform="matrix(7.9878 0 0 8.5714 576.900 509.414)" fill="#222">Months</text>
<text font-size="1" transform="matrix(0 -8.0394 9.3878 0 498.406 444.200)" fill="#222">Percent survival</text>
<text font-size="1" transform="matrix(9.0714 0 0 9.7959 558.900 343.402)" fill="#222">Overall Survival</text>
<polyline points="517.30,351.40 520.43,351.40 520.43,353.17 523.57,353.17 523.57,354.93 526.70,354.93 526.70,356.70 530.60,356.70 530.60,359.03 534.50,359.03 534.50,361.37 538.40,361.37 538.40,363.70 542.27,363.70 542.27,366.03 546.13,366.03 546.13,368.37 550.00,368.37 550.00,370.70 553.52,370.70 553.52,372.45 557.05,372.45 557.05,374.20 560.58,374.20 560.58,375.95 564.10,375.95 564.10,377.70 567.15,377.70 567.15,379.10 570.20,379.10 570.20,380.50 573.25,380.50 573.25,381.90 576.30,381.90 576.30,383.30 579.97,383.30 579.97,385.50 583.63,385.50 583.63,387.70 587.30,387.70 587.30,389.90 590.36,389.90 590.36,391.44 593.42,391.44 593.42,392.98 596.48,392.98 596.48,394.52 599.54,394.52 599.54,396.06 602.60,396.06 602.60,397.60 605.90,397.60 605.90,399.20 609.20,399.20 609.20,400.80 658.40,400.80" stroke="#9a9aff" stroke-width="0.6" fill="none" stroke-dasharray="1,1.2" opacity="0.9"/>
<polyline points="517.30,351.40 520.43,351.40 520.43,355.10 523.57,355.10 523.57,358.80 526.70,358.80 526.70,362.50 530.60,362.50 530.60,365.63 534.50,365.63 534.50,368.77 538.40,368.77 538.40,371.90 542.27,371.90 542.27,374.60 546.13,374.60 546.13,377.30 550.00,377.30 550.00,380.00 553.90,380.00 553.90,382.33 557.80,382.33 557.80,384.67 561.70,384.67 561.70,387.00 565.60,387.00 565.60,389.00 569.50,389.00 569.50,391.00 573.40,391.00 573.40,393.00 577.30,393.00 577.30,395.67 581.20,395.67 581.20,398.33 585.10,398.33 585.10,401.00 588.40,401.00 588.40,403.33 591.70,403.33 591.70,405.67 595.00,405.67 595.00,408.00 599.00,408.00 599.00,413.00 603.00,413.00 603.00,418.00 606.00,418.00 606.00,420.00 609.00,420.00 609.00,422.00 612.00,422.00 612.00,424.00 627.00,424.00 627.00,435.90 650.00,435.90" stroke="#9a9aff" stroke-width="0.6" fill="none" stroke-dasharray="1,1.2" opacity="0.9"/>
<polyline points="517.30,351.40 520.43,351.40 520.43,353.93 523.57,353.93 523.57,356.47 526.70,356.47 526.70,359.00 530.60,359.00 530.60,362.13 534.50,362.13 534.50,365.27 538.40,365.27 538.40,368.40 542.27,368.40 542.27,371.50 546.13,371.50 546.13,374.60 550.00,374.60 550.00,377.70 553.90,377.70 553.90,379.63 557.80,379.63 557.80,381.57 561.70,381.57 561.70,383.50 567.60,383.50 567.60,387.00 570.70,387.00 570.70,390.53 573.80,390.53 573.80,394.07 576.90,394.07 576.90,397.60 580.17,397.60 580.17,399.20 583.45,399.20 583.45,400.80 586.73,400.80 586.73,402.40 590.00,402.40 590.00,404.00 593.25,404.00 593.25,404.85 596.50,404.85 596.50,405.70 599.75,405.70 599.75,406.55 603.00,406.55 603.00,407.40 641.00,407.40" stroke="#ff9a9a" stroke-width="0.6" fill="none" stroke-dasharray="1,1.2" opacity="0.9"/>
<polyline points="517.30,351.40 522.00,351.40 522.00,363.70 525.50,363.70 525.50,366.43 529.00,366.43 529.00,369.17 532.50,369.17 532.50,371.90 536.40,371.90 536.40,375.77 540.30,375.77 540.30,379.63 544.20,379.63 544.20,383.50 548.13,383.50 548.13,388.20 552.07,388.20 552.07,392.90 556.00,392.90 556.00,397.60 559.87,397.60 559.87,401.87 563.73,401.87 563.73,406.13 567.60,406.13 567.60,410.40 571.65,410.40 571.65,413.90 575.70,413.90 575.70,417.40 578.83,417.40 578.83,418.93 581.97,418.93 581.97,420.47 585.10,420.47 585.10,422.00 588.83,422.00 588.83,423.50 592.55,423.50 592.55,425.00 596.27,425.00 596.27,426.50 600.00,426.50 600.00,428.00 603.00,428.00 603.00,428.80 606.00,428.80 606.00,429.60 609.00,429.60 609.00,430.40 612.00,430.40 612.00,431.20 615.00,431.20 615.00,432.00 618.25,432.00 618.25,432.25 621.50,432.25 621.50,432.50 624.75,432.50 624.75,432.75 628.00,432.75 628.00,433.00 628.00,442.40 645.00,442.40" stroke="#ff9a9a" stroke-width="0.6" fill="none" stroke-dasharray="1,1.2" opacity="0.9"/>
<polyline points="517.30,351.40 519.70,351.40 519.70,355.50 522.00,355.50 522.00,359.00 525.50,359.00 525.50,361.90 527.80,361.90 527.80,362.50 530.20,362.50 530.20,366.00 533.70,366.00 533.70,369.50 537.20,369.50 537.20,374.20 540.70,374.20 540.70,377.70 543.00,377.70 543.00,380.00 545.40,380.00 545.40,384.70 548.90,384.70 548.90,388.20 551.20,388.20 551.20,389.95 553.50,389.95 553.50,391.70 555.85,391.70 555.85,392.85 558.20,392.85 558.20,394.00 560.55,394.00 560.55,395.20 562.90,395.20 562.90,396.40 566.40,396.40 566.40,397.60 568.70,397.60 568.70,402.20 571.10,402.20 571.10,408.10 573.40,408.10 573.40,408.35 575.70,408.35 575.70,408.60 578.05,408.60 578.05,408.90 580.40,408.90 580.40,409.20 582.75,409.20 582.75,410.40 585.10,410.40 585.10,411.60 587.40,411.60 587.40,415.10 590.90,415.10 590.90,417.40 593.45,417.40 593.45,418.40 596.00,418.40 596.00,419.40 598.20,419.40 598.20,419.77 600.40,419.77 600.40,420.13 602.60,420.13 602.60,420.50 604.80,420.50 604.80,422.70 628.90,422.70 628.90,428.20 644.20,428.20" stroke="#ff2a2a" stroke-width="1.15" fill="none"/>
<polyline points="517.30,351.40 520.80,351.40 520.80,354.90 524.30,354.90 524.30,358.40 526.70,358.40 526.70,360.20 530.20,360.20 530.20,363.10 533.70,363.10 533.70,365.40 537.20,365.40 537.20,368.40 540.70,368.40 540.70,370.10 543.05,370.10 543.05,371.55 545.40,371.55 545.40,373.00 548.90,373.00 548.90,375.40 551.20,375.40 551.20,376.85 553.50,376.85 553.50,378.30 555.85,378.30 555.85,379.75 558.20,379.75 558.20,381.20 560.55,381.20 560.55,382.95 562.90,382.95 562.90,384.70 565.20,384.70 565.20,385.30 567.60,385.30 567.60,388.20 569.90,388.20 569.90,389.40 573.40,389.40 575.70,389.40 575.70,390.00 578.10,390.00 578.10,392.90 581.60,392.90 581.60,395.20 585.10,395.20 585.10,397.60 588.60,397.60 588.60,399.90 592.10,399.90 592.10,404.60 596.00,404.60 596.00,405.10 598.75,405.10 598.75,406.80 601.50,406.80 601.50,408.50 603.70,408.50 603.70,414.00 626.90,414.00 626.90,421.60 659.50,421.60" stroke="#2a2aff" stroke-width="1.15" fill="none"/>
<line x1="540.00" y1="366.50" x2="540.00" y2="370.30" stroke="#2a2aff" stroke-width="0.7"/>
<line x1="548.00" y1="371.10" x2="548.00" y2="374.90" stroke="#2a2aff" stroke-width="0.7"/>
<line x1="556.00" y1="377.85" x2="556.00" y2="381.65" stroke="#2a2aff" stroke-width="0.7"/>
<line x1="566.00" y1="383.40" x2="566.00" y2="387.20" stroke="#2a2aff" stroke-width="0.7"/>
<line x1="567.00" y1="383.40" x2="567.00" y2="387.20" stroke="#2a2aff" stroke-width="0.7"/>
<line x1="569.00" y1="386.30" x2="569.00" y2="390.10" stroke="#2a2aff" stroke-width="0.7"/>
<line x1="571.00" y1="387.50" x2="571.00" y2="391.30" stroke="#2a2aff" stroke-width="0.7"/>
<line x1="573.00" y1="387.50" x2="573.00" y2="391.30" stroke="#2a2aff" stroke-width="0.7"/>
<line x1="575.00" y1="387.50" x2="575.00" y2="391.30" stroke="#2a2aff" stroke-width="0.7"/>
<line x1="606.00" y1="412.10" x2="606.00" y2="415.90" stroke="#2a2aff" stroke-width="0.7"/>
<line x1="608.00" y1="412.10" x2="608.00" y2="415.90" stroke="#2a2aff" stroke-width="0.7"/>
<line x1="610.00" y1="412.10" x2="610.00" y2="415.90" stroke="#2a2aff" stroke-width="0.7"/>
<line x1="612.00" y1="412.10" x2="612.00" y2="415.90" stroke="#2a2aff" stroke-width="0.7"/>
<line x1="614.00" y1="412.10" x2="614.00" y2="415.90" stroke="#2a2aff" stroke-width="0.7"/>
<line x1="616.00" y1="412.10" x2="616.00" y2="415.90" stroke="#2a2aff" stroke-width="0.7"/>
<line x1="618.00" y1="412.10" x2="618.00" y2="415.90" stroke="#2a2aff" stroke-width="0.7"/>
<line x1="620.00" y1="412.10" x2="620.00" y2="415.90" stroke="#2a2aff" stroke-width="0.7"/>
<line x1="622.00" y1="412.10" x2="622.00" y2="415.90" stroke="#2a2aff" stroke-width="0.7"/>
<line x1="624.00" y1="412.10" x2="624.00" y2="415.90" stroke="#2a2aff" stroke-width="0.7"/>
<line x1="630.00" y1="419.70" x2="630.00" y2="423.50" stroke="#2a2aff" stroke-width="0.7"/>
<line x1="635.00" y1="419.70" x2="635.00" y2="423.50" stroke="#2a2aff" stroke-width="0.7"/>
<line x1="640.00" y1="419.70" x2="640.00" y2="423.50" stroke="#2a2aff" stroke-width="0.7"/>
<line x1="645.00" y1="419.70" x2="645.00" y2="423.50" stroke="#2a2aff" stroke-width="0.7"/>
<line x1="652.00" y1="419.70" x2="652.00" y2="423.50" stroke="#2a2aff" stroke-width="0.7"/>
<line x1="659.00" y1="419.70" x2="659.00" y2="423.50" stroke="#2a2aff" stroke-width="0.7"/>
<line x1="548.00" y1="382.80" x2="548.00" y2="386.60" stroke="#ff2a2a" stroke-width="0.7"/>
<line x1="556.00" y1="390.95" x2="556.00" y2="394.75" stroke="#ff2a2a" stroke-width="0.7"/>
<line x1="572.00" y1="406.20" x2="572.00" y2="410.00" stroke="#ff2a2a" stroke-width="0.7"/>
<line x1="574.00" y1="406.45" x2="574.00" y2="410.25" stroke="#ff2a2a" stroke-width="0.7"/>
<line x1="576.00" y1="406.70" x2="576.00" y2="410.50" stroke="#ff2a2a" stroke-width="0.7"/>
<line x1="578.00" y1="406.70" x2="578.00" y2="410.50" stroke="#ff2a2a" stroke-width="0.7"/>
<line x1="580.00" y1="407.00" x2="580.00" y2="410.80" stroke="#ff2a2a" stroke-width="0.7"/>
<line x1="582.00" y1="407.30" x2="582.00" y2="411.10" stroke="#ff2a2a" stroke-width="0.7"/>
<line x1="599.00" y1="417.87" x2="599.00" y2="421.67" stroke="#ff2a2a" stroke-width="0.7"/>
<line x1="607.00" y1="420.80" x2="607.00" y2="424.60" stroke="#ff2a2a" stroke-width="0.7"/>
<line x1="611.00" y1="420.80" x2="611.00" y2="424.60" stroke="#ff2a2a" stroke-width="0.7"/>
<line x1="615.00" y1="420.80" x2="615.00" y2="424.60" stroke="#ff2a2a" stroke-width="0.7"/>
<line x1="619.00" y1="420.80" x2="619.00" y2="424.60" stroke="#ff2a2a" stroke-width="0.7"/>
<line x1="623.00" y1="420.80" x2="623.00" y2="424.60" stroke="#ff2a2a" stroke-width="0.7"/>
<line x1="627.00" y1="420.80" x2="627.00" y2="424.60" stroke="#ff2a2a" stroke-width="0.7"/>
<line x1="632.00" y1="426.30" x2="632.00" y2="430.10" stroke="#ff2a2a" stroke-width="0.7"/>
<line x1="636.00" y1="426.30" x2="636.00" y2="430.10" stroke="#ff2a2a" stroke-width="0.7"/>
<line x1="640.00" y1="426.30" x2="640.00" y2="430.10" stroke="#ff2a2a" stroke-width="0.7"/>
<line x1="643.00" y1="426.30" x2="643.00" y2="430.10" stroke="#ff2a2a" stroke-width="0.7"/>
<line x1="604.60" y1="352.60" x2="616.10" y2="352.60" stroke="#2a2aff" stroke-width="1.2"/>
<line x1="604.60" y1="358.30" x2="616.10" y2="358.30" stroke="#ff2a2a" stroke-width="1.2"/>
<text font-size="1" transform="matrix(6.0602 0 0 6.0563 619.000 354.939)" fill="#222">Low SPI1 TPM</text>
<text font-size="1" transform="matrix(6.0655 0 0 5.1337 619.000 360.122)" fill="#222">High SPI1 TPM</text>
<text font-size="1" transform="matrix(6.0783 0 0 5.1337 614.200 367.722)" fill="#222">Logrank p=0.027</text>
<text font-size="1" transform="matrix(6.0753 0 0 5.1337 623.700 374.822)" fill="#222">HR(high)=1.4</text>
<text font-size="1" transform="matrix(6.0990 0 0 5.5615 624.900 382.332)" fill="#222">p(HR)=0.028</text>
<text font-size="1" transform="matrix(6.1510 0 0 5.5615 627.000 389.432)" fill="#222">n(high)=310</text>
<text font-size="1" transform="matrix(6.0503 0 0 5.5615 629.900 396.532)" fill="#222">n(low)=310</text>
<text font-size="1" transform="matrix(9.1486 0 0 9.2958 98.600 530.407)" font-weight="bold" fill="#000">TCGA KIRC</text>
<line x1="51.10" y1="542.50" x2="51.10" y2="639.90" stroke="#222" stroke-width="1.1"/>
<line x1="48.60" y1="543.00" x2="51.10" y2="543.00" stroke="#222" stroke-width="1.1"/>
<text x="47.40" y="545.45" font-size="7" text-anchor="end" font-weight="bold" fill="#111">10</text>
<line x1="48.60" y1="562.30" x2="51.10" y2="562.30" stroke="#222" stroke-width="1.1"/>
<text x="47.40" y="564.75" font-size="7" text-anchor="end" font-weight="bold" fill="#111">8</text>
<line x1="48.60" y1="581.60" x2="51.10" y2="581.60" stroke="#222" stroke-width="1.1"/>
<text x="47.40" y="584.05" font-size="7" text-anchor="end" font-weight="bold" fill="#111">6</text>
<line x1="48.60" y1="600.90" x2="51.10" y2="600.90" stroke="#222" stroke-width="1.1"/>
<text x="47.40" y="603.35" font-size="7" text-anchor="end" font-weight="bold" fill="#111">4</text>
<line x1="48.60" y1="620.20" x2="51.10" y2="620.20" stroke="#222" stroke-width="1.1"/>
<text x="47.40" y="622.65" font-size="7" text-anchor="end" font-weight="bold" fill="#111">2</text>
<line x1="48.60" y1="639.40" x2="51.10" y2="639.40" stroke="#222" stroke-width="1.1"/>
<text x="47.40" y="641.85" font-size="7" text-anchor="end" font-weight="bold" fill="#111">0</text>
<line x1="51.10" y1="639.40" x2="196.80" y2="639.40" stroke="#222" stroke-width="1.1"/>
<text font-size="1" transform="matrix(0 -7.4885 6.9519 0 34.740 638.300)" font-weight="bold" fill="#000">Relative expression of SPI1</text>
<line x1="80.20" y1="583.30" x2="80.20" y2="603.80" stroke="#2020ff" stroke-width="1.5"/>
<line x1="80.20" y1="616.40" x2="80.20" y2="624.80" stroke="#2020ff" stroke-width="1.5"/>
<line x1="73.20" y1="583.30" x2="87.20" y2="583.30" stroke="#2020ff" stroke-width="1.5"/>
<line x1="73.20" y1="624.80" x2="87.20" y2="624.80" stroke="#2020ff" stroke-width="1.5"/>
<rect x="65.50" y="603.80" width="29.70" height="12.60" fill="none" stroke="#2020ff" stroke-width="1.5"/>
<line x1="65.50" y1="609.50" x2="95.20" y2="609.50" stroke="#2020ff" stroke-width="1.5"/>
<line x1="80.20" y1="639.40" x2="80.20" y2="642.20" stroke="#222" stroke-width="1.1"/>
<text x="80.20" y="650.30" font-size="7.25" text-anchor="middle" font-weight="bold">Normal</text>
<text x="80.20" y="658.50" font-size="7.25" text-anchor="middle" font-weight="bold">(n=72)</text>
<line x1="124.00" y1="563.90" x2="124.00" y2="581.70" stroke="#ff2020" stroke-width="1.5"/>
<line x1="124.00" y1="592.70" x2="124.00" y2="623.80" stroke="#ff2020" stroke-width="1.5"/>
<line x1="117.00" y1="563.90" x2="131.00" y2="563.90" stroke="#ff2020" stroke-width="1.5"/>
<line x1="117.00" y1="623.80" x2="131.00" y2="623.80" stroke="#ff2020" stroke-width="1.5"/>
<rect x="109.30" y="581.70" width="29.20" height="11.00" fill="none" stroke="#ff2020" stroke-width="1.5"/>
<line x1="109.30" y1="586.20" x2="138.50" y2="586.20" stroke="#ff2020" stroke-width="1.5"/>
<line x1="124.00" y1="639.40" x2="124.00" y2="642.20" stroke="#222" stroke-width="1.1"/>
<text x="124.00" y="650.30" font-size="7.25" text-anchor="middle" font-weight="bold">Stage1+2</text>
<text x="124.00" y="658.50" font-size="7.25" text-anchor="middle" font-weight="bold">(n=323)</text>
<line x1="167.50" y1="561.90" x2="167.50" y2="578.00" stroke="#33dd33" stroke-width="1.5"/>
<line x1="167.50" y1="590.10" x2="167.50" y2="615.60" stroke="#33dd33" stroke-width="1.5"/>
<line x1="160.50" y1="561.90" x2="174.50" y2="561.90" stroke="#33dd33" stroke-width="1.5"/>
<line x1="160.50" y1="615.60" x2="174.50" y2="615.60" stroke="#33dd33" stroke-width="1.5"/>
<rect x="152.60" y="578.00" width="29.80" height="12.10" fill="none" stroke="#33dd33" stroke-width="1.5"/>
<line x1="152.60" y1="583.90" x2="182.40" y2="583.90" stroke="#33dd33" stroke-width="1.5"/>
<line x1="167.50" y1="639.40" x2="167.50" y2="642.20" stroke="#222" stroke-width="1.1"/>
<text x="167.50" y="650.30" font-size="7.25" text-anchor="middle" font-weight="bold">Stage3+4</text>
<text x="167.50" y="658.50" font-size="7.25" text-anchor="middle" font-weight="bold">(n=206)</text>
<polyline points="80.20,553.30 80.20,549.60 167.50,549.60 167.50,553.30" stroke="#8a8a8a" stroke-width="0.9" fill="none"/>
<text x="122.00" y="551.60" font-size="9.2" text-anchor="middle" font-weight="bold" textLength="13.5" lengthAdjust="spacingAndGlyphs" fill="#333">****</text>
<polyline points="80.20,561.80 80.20,558.40 124.00,558.40 124.00,561.80" stroke="#8a8a8a" stroke-width="0.9" fill="none"/>
<text x="101.00" y="559.90" font-size="9.2" text-anchor="middle" font-weight="bold" textLength="13.5" lengthAdjust="spacingAndGlyphs" fill="#333">****</text>
<polyline points="124.00,559.80 124.00,556.00 167.50,556.00 167.50,559.80" stroke="#8a8a8a" stroke-width="0.9" fill="none"/>
<text x="145.00" y="557.90" font-size="9.2" text-anchor="middle" font-weight="bold" textLength="13.5" lengthAdjust="spacingAndGlyphs" fill="#333">****</text>
<text font-size="1" transform="matrix(9.1486 0 0 9.2958 329.300 530.407)" font-weight="bold" fill="#000">TCGA KIRC</text>
<line x1="282.40" y1="542.50" x2="282.40" y2="639.90" stroke="#222" stroke-width="1.1"/>
<line x1="279.90" y1="543.00" x2="282.40" y2="543.00" stroke="#222" stroke-width="1.1"/>
<text x="278.70" y="545.45" font-size="7" text-anchor="end" font-weight="bold" fill="#111">10</text>
<line x1="279.90" y1="562.30" x2="282.40" y2="562.30" stroke="#222" stroke-width="1.1"/>
<text x="278.70" y="564.75" font-size="7" text-anchor="end" font-weight="bold" fill="#111">8</text>
<line x1="279.90" y1="581.60" x2="282.40" y2="581.60" stroke="#222" stroke-width="1.1"/>
<text x="278.70" y="584.05" font-size="7" text-anchor="end" font-weight="bold" fill="#111">6</text>
<line x1="279.90" y1="600.90" x2="282.40" y2="600.90" stroke="#222" stroke-width="1.1"/>
<text x="278.70" y="603.35" font-size="7" text-anchor="end" font-weight="bold" fill="#111">4</text>
<line x1="279.90" y1="620.20" x2="282.40" y2="620.20" stroke="#222" stroke-width="1.1"/>
<text x="278.70" y="622.65" font-size="7" text-anchor="end" font-weight="bold" fill="#111">2</text>
<line x1="279.90" y1="639.40" x2="282.40" y2="639.40" stroke="#222" stroke-width="1.1"/>
<text x="278.70" y="641.85" font-size="7" text-anchor="end" font-weight="bold" fill="#111">0</text>
<line x1="282.40" y1="639.40" x2="427.70" y2="639.40" stroke="#222" stroke-width="1.1"/>
<text font-size="1" transform="matrix(0 -7.4885 6.4171 0 265.952 638.000)" font-weight="bold" fill="#000">Relative expression of SPI1</text>
<line x1="311.40" y1="583.30" x2="311.40" y2="603.80" stroke="#2020ff" stroke-width="1.5"/>
<line x1="311.40" y1="616.40" x2="311.40" y2="624.80" stroke="#2020ff" stroke-width="1.5"/>
<line x1="304.40" y1="583.30" x2="318.40" y2="583.30" stroke="#2020ff" stroke-width="1.5"/>
<line x1="304.40" y1="624.80" x2="318.40" y2="624.80" stroke="#2020ff" stroke-width="1.5"/>
<rect x="296.70" y="603.80" width="29.70" height="12.60" fill="none" stroke="#2020ff" stroke-width="1.5"/>
<line x1="296.70" y1="609.50" x2="326.40" y2="609.50" stroke="#2020ff" stroke-width="1.5"/>
<line x1="311.40" y1="639.40" x2="311.40" y2="642.20" stroke="#222" stroke-width="1.1"/>
<text x="311.40" y="650.30" font-size="7.25" text-anchor="middle" font-weight="bold">Normal</text>
<text x="311.40" y="658.50" font-size="7.25" text-anchor="middle" font-weight="bold">(n=72)</text>
<line x1="354.80" y1="563.90" x2="354.80" y2="581.70" stroke="#ff2020" stroke-width="1.5"/>
<line x1="354.80" y1="592.70" x2="354.80" y2="623.80" stroke="#ff2020" stroke-width="1.5"/>
<line x1="347.80" y1="563.90" x2="361.80" y2="563.90" stroke="#ff2020" stroke-width="1.5"/>
<line x1="347.80" y1="623.80" x2="361.80" y2="623.80" stroke="#ff2020" stroke-width="1.5"/>
<rect x="340.10" y="581.70" width="29.20" height="11.00" fill="none" stroke="#ff2020" stroke-width="1.5"/>
<line x1="340.10" y1="586.20" x2="369.30" y2="586.20" stroke="#ff2020" stroke-width="1.5"/>
<line x1="354.80" y1="639.40" x2="354.80" y2="642.20" stroke="#222" stroke-width="1.1"/>
<text x="354.80" y="650.30" font-size="7.25" text-anchor="middle" font-weight="bold">T1+2</text>
<text x="354.80" y="658.50" font-size="7.25" text-anchor="middle" font-weight="bold">(n=327)</text>
<line x1="398.50" y1="561.90" x2="398.50" y2="578.00" stroke="#33dd33" stroke-width="1.5"/>
<line x1="398.50" y1="590.10" x2="398.50" y2="615.60" stroke="#33dd33" stroke-width="1.5"/>
<line x1="391.50" y1="561.90" x2="405.50" y2="561.90" stroke="#33dd33" stroke-width="1.5"/>
<line x1="391.50" y1="615.60" x2="405.50" y2="615.60" stroke="#33dd33" stroke-width="1.5"/>
<rect x="383.60" y="578.00" width="29.80" height="12.10" fill="none" stroke="#33dd33" stroke-width="1.5"/>
<line x1="383.60" y1="583.90" x2="413.40" y2="583.90" stroke="#33dd33" stroke-width="1.5"/>
<line x1="398.50" y1="639.40" x2="398.50" y2="642.20" stroke="#222" stroke-width="1.1"/>
<text x="398.50" y="650.30" font-size="7.25" text-anchor="middle" font-weight="bold">T3</text>
<text x="398.50" y="658.50" font-size="7.25" text-anchor="middle" font-weight="bold">(n=173)</text>
<polyline points="311.40,553.30 311.40,549.60 398.50,549.60 398.50,553.30" stroke="#8a8a8a" stroke-width="0.9" fill="none"/>
<text x="353.20" y="551.60" font-size="9.2" text-anchor="middle" font-weight="bold" textLength="13.5" lengthAdjust="spacingAndGlyphs" fill="#333">****</text>
<polyline points="311.40,561.80 311.40,558.40 354.80,558.40 354.80,561.80" stroke="#8a8a8a" stroke-width="0.9" fill="none"/>
<text x="332.20" y="559.90" font-size="9.2" text-anchor="middle" font-weight="bold" textLength="13.5" lengthAdjust="spacingAndGlyphs" fill="#333">****</text>
<polyline points="354.80,559.80 354.80,556.00 398.50,556.00 398.50,559.80" stroke="#8a8a8a" stroke-width="0.9" fill="none"/>
<text x="376.20" y="557.90" font-size="9.2" text-anchor="middle" font-weight="bold" textLength="13.5" lengthAdjust="spacingAndGlyphs" fill="#333">****</text>
<text font-size="1" transform="matrix(9.1123 0 0 9.5775 559.300 530.304)" font-weight="bold" fill="#000">TCGA KIRC</text>
<line x1="512.30" y1="542.50" x2="512.30" y2="639.90" stroke="#222" stroke-width="1.1"/>
<line x1="509.80" y1="543.00" x2="512.30" y2="543.00" stroke="#222" stroke-width="1.1"/>
<text x="508.60" y="545.45" font-size="7" text-anchor="end" font-weight="bold" fill="#111">10</text>
<line x1="509.80" y1="562.30" x2="512.30" y2="562.30" stroke="#222" stroke-width="1.1"/>
<text x="508.60" y="564.75" font-size="7" text-anchor="end" font-weight="bold" fill="#111">8</text>
<line x1="509.80" y1="581.60" x2="512.30" y2="581.60" stroke="#222" stroke-width="1.1"/>
<text x="508.60" y="584.05" font-size="7" text-anchor="end" font-weight="bold" fill="#111">6</text>
<line x1="509.80" y1="600.90" x2="512.30" y2="600.90" stroke="#222" stroke-width="1.1"/>
<text x="508.60" y="603.35" font-size="7" text-anchor="end" font-weight="bold" fill="#111">4</text>
<line x1="509.80" y1="620.20" x2="512.30" y2="620.20" stroke="#222" stroke-width="1.1"/>
<text x="508.60" y="622.65" font-size="7" text-anchor="end" font-weight="bold" fill="#111">2</text>
<line x1="509.80" y1="639.40" x2="512.30" y2="639.40" stroke="#222" stroke-width="1.1"/>
<text x="508.60" y="641.85" font-size="7" text-anchor="end" font-weight="bold" fill="#111">0</text>
<line x1="512.30" y1="639.40" x2="657.20" y2="639.40" stroke="#222" stroke-width="1.1"/>
<text font-size="1" transform="matrix(0 -7.4655 6.4171 0 495.652 637.700)" font-weight="bold" fill="#000">Relative expression of SPI1</text>
<line x1="540.70" y1="583.10" x2="540.70" y2="603.50" stroke="#2020ff" stroke-width="1.5"/>
<line x1="540.70" y1="616.20" x2="540.70" y2="624.70" stroke="#2020ff" stroke-width="1.5"/>
<line x1="533.70" y1="583.10" x2="547.70" y2="583.10" stroke="#2020ff" stroke-width="1.5"/>
<line x1="533.70" y1="624.70" x2="547.70" y2="624.70" stroke="#2020ff" stroke-width="1.5"/>
<rect x="526.00" y="603.50" width="29.50" height="12.70" fill="none" stroke="#2020ff" stroke-width="1.5"/>
<line x1="526.00" y1="609.20" x2="555.50" y2="609.20" stroke="#2020ff" stroke-width="1.5"/>
<line x1="540.70" y1="639.40" x2="540.70" y2="642.20" stroke="#222" stroke-width="1.1"/>
<text x="540.70" y="650.30" font-size="7.25" text-anchor="middle" font-weight="bold">Normal</text>
<text x="540.70" y="658.50" font-size="7.25" text-anchor="middle" font-weight="bold">(n=72)</text>
<line x1="584.40" y1="570.70" x2="584.40" y2="582.30" stroke="#ff2020" stroke-width="1.5"/>
<line x1="584.40" y1="592.80" x2="584.40" y2="623.60" stroke="#ff2020" stroke-width="1.5"/>
<line x1="577.40" y1="570.70" x2="591.40" y2="570.70" stroke="#ff2020" stroke-width="1.5"/>
<line x1="577.40" y1="623.60" x2="591.40" y2="623.60" stroke="#ff2020" stroke-width="1.5"/>
<rect x="569.60" y="582.30" width="29.70" height="10.50" fill="none" stroke="#ff2020" stroke-width="1.5"/>
<line x1="569.60" y1="586.40" x2="599.30" y2="586.40" stroke="#ff2020" stroke-width="1.5"/>
<line x1="584.40" y1="639.40" x2="584.40" y2="642.20" stroke="#222" stroke-width="1.1"/>
<text x="584.40" y="650.30" font-size="7.25" text-anchor="middle" font-weight="bold">G1+2</text>
<text x="584.40" y="658.50" font-size="7.25" text-anchor="middle" font-weight="bold">(n=242)</text>
<line x1="627.80" y1="561.90" x2="627.80" y2="579.00" stroke="#33dd33" stroke-width="1.5"/>
<line x1="627.80" y1="589.30" x2="627.80" y2="618.80" stroke="#33dd33" stroke-width="1.5"/>
<line x1="620.50" y1="561.90" x2="635.10" y2="561.90" stroke="#33dd33" stroke-width="1.5"/>
<line x1="620.50" y1="618.80" x2="635.10" y2="618.80" stroke="#33dd33" stroke-width="1.5"/>
<rect x="612.90" y="579.00" width="29.60" height="10.30" fill="none" stroke="#33dd33" stroke-width="1.5"/>
<line x1="612.90" y1="584.40" x2="642.50" y2="584.40" stroke="#33dd33" stroke-width="1.5"/>
<line x1="627.80" y1="639.40" x2="627.80" y2="642.20" stroke="#222" stroke-width="1.1"/>
<text x="627.80" y="650.30" font-size="7.25" text-anchor="middle" font-weight="bold">G3+4</text>
<text x="627.80" y="658.50" font-size="7.25" text-anchor="middle" font-weight="bold">(n=282)</text>
<polyline points="540.70,552.70 540.70,549.40 627.80,549.40 627.80,552.70" stroke="#8a8a8a" stroke-width="0.9" fill="none"/>
<text x="583.40" y="551.50" font-size="9.2" text-anchor="middle" font-weight="bold" textLength="13.5" lengthAdjust="spacingAndGlyphs" fill="#333">****</text>
<polyline points="584.40,559.30 584.40,555.80 627.80,555.80 627.80,559.30" stroke="#8a8a8a" stroke-width="0.9" fill="none"/>
<text x="605.90" y="558.50" font-size="9.2" text-anchor="middle" font-weight="bold" textLength="13.5" lengthAdjust="spacingAndGlyphs" fill="#333">****</text>
<polyline points="540.70,568.50 540.70,564.50 584.40,564.50 584.40,568.50" stroke="#8a8a8a" stroke-width="0.9" fill="none"/>
<text x="562.60" y="566.20" font-size="9.2" text-anchor="middle" font-weight="bold" textLength="13.5" lengthAdjust="spacingAndGlyphs" fill="#333">****</text>
<rect x="59.50" y="733.70" width="306.20" height="24.70" fill="#fff" stroke="#555" stroke-width="1.0"/>
<rect x="59.50" y="773.80" width="306.20" height="24.50" fill="#fff" stroke="#555" stroke-width="1.0"/>
<text font-size="1" transform="matrix(10.3687 0 0 13.9437 27.800 754.661)" fill="#000" stroke="#000" stroke-width="0.0329" stroke-linejoin="round">SPI1</text>
<text font-size="1" transform="matrix(11.8143 0 0 13.6620 14.000 786.163)" fill="#000" stroke="#000" stroke-width="0.0314" stroke-linejoin="round">GAPDH</text>
<text font-size="1" transform="matrix(9.9099 0 0 12.9577 371.100 750.670)" fill="#000" stroke="#000" stroke-width="0.0350" stroke-linejoin="round">31</text>
<text font-size="1" transform="matrix(10.7207 0 0 12.5352 371.100 790.475)" fill="#000" stroke="#000" stroke-width="0.0344" stroke-linejoin="round">37</text>
<text font-size="1" transform="matrix(14.7750 0 0 15.7823 78.000 724.642)" fill="#000" stroke="#000" stroke-width="0.0262" stroke-linejoin="round">Fuhrman</text>
<rect x="145.00" y="714.20" width="1.90" height="10.60" fill="#111"/>
<text font-size="1" transform="matrix(14.6750 0 0 15.7823 174.700 724.642)" fill="#000" stroke="#000" stroke-width="0.0263" stroke-linejoin="round">Fuhrman</text>
<rect x="238.90" y="714.20" width="1.90" height="10.60" fill="#111"/>
<rect x="243.60" y="714.20" width="1.90" height="10.60" fill="#111"/>
<text font-size="1" transform="matrix(14.6750 0 0 15.7823 276.900 724.642)" fill="#000" stroke="#000" stroke-width="0.0263" stroke-linejoin="round">Fuhrman</text>
<rect x="338.90" y="714.20" width="1.90" height="10.60" fill="#111"/>
<rect x="343.00" y="714.20" width="1.90" height="10.60" fill="#111"/>
<rect x="347.10" y="714.20" width="1.90" height="10.60" fill="#111"/>
<line x1="67.90" y1="728.60" x2="153.00" y2="728.60" stroke="#333" stroke-width="1.0"/>
<line x1="170.10" y1="728.60" x2="254.80" y2="728.60" stroke="#333" stroke-width="1.0"/>
<line x1="273.00" y1="728.60" x2="358.00" y2="728.60" stroke="#333" stroke-width="1.0"/>
<rect x="70.0" y="735.5" width="20.0" height="8.5" rx="2.0" fill="#000" opacity="0.05" filter="url(#bl20)"/>
<rect x="102.0" y="735.5" width="20.0" height="8.5" rx="2.0" fill="#000" opacity="0.05" filter="url(#bl20)"/>
<rect x="134.0" y="735.5" width="22.0" height="9.5" rx="2.0" fill="#000" opacity="0.06" filter="url(#bl20)"/>
<rect x="166.0" y="735.5" width="21.0" height="10.5" rx="2.0" fill="#000" opacity="0.14" filter="url(#bl20)"/>
<rect x="201.0" y="735.5" width="20.0" height="10.5" rx="2.0" fill="#000" opacity="0.14" filter="url(#bl20)"/>
<rect x="230.0" y="735.5" width="25.0" height="10.0" rx="2.0" fill="#000" opacity="0.14" filter="url(#bl20)"/>
<rect x="263.0" y="735.5" width="22.0" height="4.5" rx="2.0" fill="#000" opacity="0.22" filter="url(#bl20)"/>
<rect x="296.0" y="735.5" width="26.0" height="6.5" rx="2.0" fill="#000" opacity="0.2" filter="url(#bl20)"/>
<rect x="329.0" y="735.5" width="25.0" height="6.0" rx="2.0" fill="#000" opacity="0.2" filter="url(#bl20)"/>
<rect x="69.4" y="744.0" width="21.4" height="3.2" rx="1.6" fill="#000" opacity="0.85" filter="url(#bl10)"/>
<rect x="101.4" y="744.5" width="21.2" height="3.2" rx="1.6" fill="#000" opacity="0.8" filter="url(#bl10)"/>
<rect x="133.5" y="745.4" width="23.0" height="3.4" rx="1.7" fill="#000" opacity="0.8" filter="url(#bl10)"/>
<rect x="165.3" y="746.1" width="21.9" height="2.8" rx="1.4" fill="#000" opacity="0.35" filter="url(#bl10)"/>
<rect x="200.5" y="746.7" width="21.0" height="3.4" rx="1.7" fill="#000" opacity="0.7" filter="url(#bl10)"/>
<rect x="210.0" y="746.6" width="11.5" height="4.0" rx="2.0" fill="#000" opacity="0.9" filter="url(#bl10)"/>
<rect x="229.4" y="745.6" width="26.3" height="4.8" rx="2.4" fill="#000" opacity="1" filter="url(#bl10)"/>
<rect x="262.3" y="739.6" width="23.6" height="11.5" rx="5.8" fill="#000" opacity="1" filter="url(#bl10)"/>
<rect x="295.1" y="741.9" width="27.6" height="8.6" rx="4.3" fill="#000" opacity="1" filter="url(#bl10)"/>
<rect x="328.0" y="741.3" width="26.2" height="9.0" rx="4.5" fill="#000" opacity="1" filter="url(#bl10)"/>
<ellipse cx="304.3" cy="744.4" rx="3.6" ry="2.4" fill="#fff" opacity="0.9" filter="url(#bl8)"/>
<rect x="72.8" y="775.5" width="25.2" height="12.0" rx="3.0" fill="#000" opacity="0.07" filter="url(#bl20)"/>
<rect x="104.7" y="775.5" width="25.5" height="12.0" rx="3.0" fill="#000" opacity="0.07" filter="url(#bl20)"/>
<rect x="136.9" y="775.5" width="25.5" height="12.0" rx="3.0" fill="#000" opacity="0.07" filter="url(#bl20)"/>
<rect x="169.8" y="775.5" width="23.9" height="12.0" rx="3.0" fill="#000" opacity="0.07" filter="url(#bl20)"/>
<rect x="203.5" y="775.5" width="24.3" height="12.0" rx="3.0" fill="#000" opacity="0.07" filter="url(#bl20)"/>
<rect x="235.0" y="775.5" width="24.3" height="12.0" rx="3.0" fill="#000" opacity="0.07" filter="url(#bl20)"/>
<rect x="267.8" y="775.5" width="24.4" height="12.0" rx="3.0" fill="#000" opacity="0.07" filter="url(#bl20)"/>
<rect x="298.8" y="775.5" width="24.9" height="12.0" rx="3.0" fill="#000" opacity="0.07" filter="url(#bl20)"/>
<rect x="332.2" y="775.5" width="23.0" height="12.0" rx="3.0" fill="#000" opacity="0.07" filter="url(#bl20)"/>
<rect x="73.8" y="779.6" width="23.2" height="7.2" rx="3.6" fill="#000" opacity="1" filter="url(#bl13)"/>
<rect x="105.7" y="779.6" width="23.5" height="7.2" rx="3.6" fill="#000" opacity="1" filter="url(#bl13)"/>
<rect x="137.9" y="779.6" width="23.5" height="7.2" rx="3.6" fill="#000" opacity="1" filter="url(#bl13)"/>
<rect x="170.8" y="779.5" width="21.9" height="7.0" rx="3.5" fill="#000" opacity="1" filter="url(#bl13)"/>
<rect x="204.5" y="778.3" width="22.3" height="7.2" rx="3.6" fill="#000" opacity="1" filter="url(#bl13)"/>
<rect x="236.0" y="778.7" width="22.3" height="7.2" rx="3.6" fill="#000" opacity="1" filter="url(#bl13)"/>
<rect x="268.8" y="779.7" width="22.4" height="7.0" rx="3.5" fill="#000" opacity="1" filter="url(#bl13)"/>
<rect x="299.8" y="779.8" width="22.9" height="6.8" rx="3.4" fill="#000" opacity="1" filter="url(#bl13)"/>
<rect x="333.2" y="780.8" width="21.0" height="5.4" rx="2.7" fill="#000" opacity="1" filter="url(#bl13)"/>
</svg>
</body></html>
